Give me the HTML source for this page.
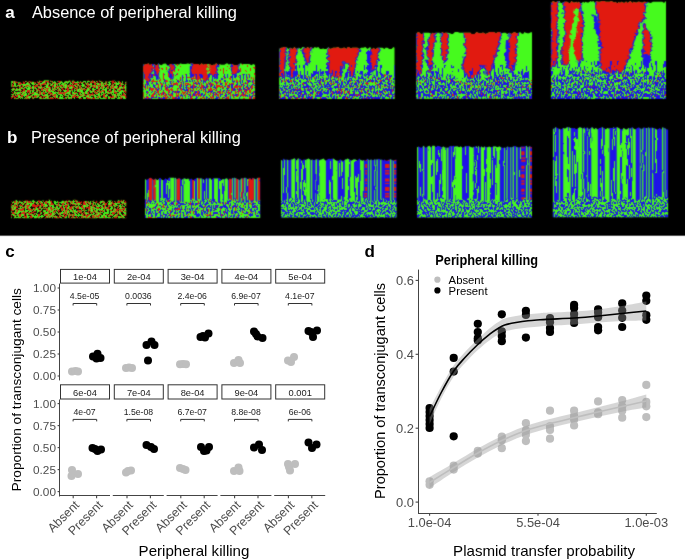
<!DOCTYPE html>
<html><head><meta charset="utf-8"><style>
html,body{margin:0;padding:0;background:#fff;width:685px;height:560px;overflow:hidden}
svg{display:block}
text{opacity:0.999}
text{font-family:"Liberation Sans",sans-serif}
</style></head><body>
<svg width="685" height="560" viewBox="0 0 685 560">
<defs>
<filter id="fRGK" x="0" y="0" width="1" height="1" color-interpolation-filters="sRGB">
<feTurbulence type="fractalNoise" baseFrequency="0.55" numOctaves="2" seed="4" result="n1"/>
<feColorMatrix in="n1" type="matrix" values="1 0 0 0 0 1 0 0 0 0 1 0 0 0 0 0 0 0 0 1" result="g1"/>
<feComponentTransfer in="g1" result="base"><feFuncR type="discrete" tableValues="0.882 0.882 0.882 0.882 0.882 0.882 0.882 0.882 0.882 0.882 0.882 0.882 0.882 0.882 0.882 0.882 0.882 0.882 0.882 0.882 0.882 0.882 0.882 0.882 0.882 0.882 0.882 0.882 0.882 0.882 0.882 0.275 0.275 0.275 0.275 0.275 0.275 0.275 0.275 0.275 0.275 0.275 0.275 0.275 0.275 0.275 0.275 0.275 0.275 0.275 0.275 0.275 0.275 0.275 0.275 0.275 0.275 0.275 0.275 0.275 0.275 0.275 0.275 0.275"/><feFuncG type="discrete" tableValues="0.102 0.102 0.102 0.102 0.102 0.102 0.102 0.102 0.102 0.102 0.102 0.102 0.102 0.102 0.102 0.102 0.102 0.102 0.102 0.102 0.102 0.102 0.102 0.102 0.102 0.102 0.102 0.102 0.102 0.102 0.102 0.98 0.98 0.98 0.98 0.98 0.98 0.98 0.98 0.98 0.98 0.98 0.98 0.98 0.98 0.98 0.98 0.98 0.98 0.98 0.98 0.98 0.98 0.98 0.98 0.98 0.98 0.98 0.98 0.98 0.98 0.98 0.98 0.98"/><feFuncB type="discrete" tableValues="0.063 0.063 0.063 0.063 0.063 0.063 0.063 0.063 0.063 0.063 0.063 0.063 0.063 0.063 0.063 0.063 0.063 0.063 0.063 0.063 0.063 0.063 0.063 0.063 0.063 0.063 0.063 0.063 0.063 0.063 0.063 0.118 0.118 0.118 0.118 0.118 0.118 0.118 0.118 0.118 0.118 0.118 0.118 0.118 0.118 0.118 0.118 0.118 0.118 0.118 0.118 0.118 0.118 0.118 0.118 0.118 0.118 0.118 0.118 0.118 0.118 0.118 0.118 0.118"/></feComponentTransfer>
<feTurbulence type="fractalNoise" baseFrequency="0.55" numOctaves="2" seed="21" result="n2"/>
<feColorMatrix in="n2" type="matrix" values="0 0 0 0 0.000 0 0 0 0 0.000 0 0 0 0 0.000 1 0 0 0 0" result="o1"/>
<feComponentTransfer in="o1" result="ov"><feFuncA type="discrete" tableValues="1 1 1 1 1 1 1 1 1 1 1 1 1 1 1 1 1 1 1 1 1 1 1 1 1 1 0 0 0 0 0 0 0 0 0 0 0 0 0 0 0 0 0 0 0 0 0 0 0 0 0 0 0 0 0 0 0 0 0 0 0 0 0 0"/></feComponentTransfer>
<feMerge><feMergeNode in="base"/><feMergeNode in="ov"/></feMerge>
</filter>
<filter id="fRGK2" x="0" y="0" width="1" height="1" color-interpolation-filters="sRGB">
<feTurbulence type="fractalNoise" baseFrequency="0.55" numOctaves="2" seed="9" result="n1"/>
<feColorMatrix in="n1" type="matrix" values="1 0 0 0 0 1 0 0 0 0 1 0 0 0 0 0 0 0 0 1" result="g1"/>
<feComponentTransfer in="g1" result="base"><feFuncR type="discrete" tableValues="0.882 0.882 0.882 0.882 0.882 0.882 0.882 0.882 0.882 0.882 0.882 0.882 0.882 0.882 0.882 0.882 0.882 0.882 0.882 0.882 0.882 0.882 0.882 0.882 0.882 0.882 0.882 0.882 0.882 0.882 0.882 0.275 0.275 0.275 0.275 0.275 0.275 0.275 0.275 0.275 0.275 0.275 0.275 0.275 0.275 0.275 0.275 0.275 0.275 0.275 0.275 0.275 0.275 0.275 0.275 0.275 0.275 0.275 0.275 0.275 0.275 0.275 0.275 0.275"/><feFuncG type="discrete" tableValues="0.102 0.102 0.102 0.102 0.102 0.102 0.102 0.102 0.102 0.102 0.102 0.102 0.102 0.102 0.102 0.102 0.102 0.102 0.102 0.102 0.102 0.102 0.102 0.102 0.102 0.102 0.102 0.102 0.102 0.102 0.102 0.98 0.98 0.98 0.98 0.98 0.98 0.98 0.98 0.98 0.98 0.98 0.98 0.98 0.98 0.98 0.98 0.98 0.98 0.98 0.98 0.98 0.98 0.98 0.98 0.98 0.98 0.98 0.98 0.98 0.98 0.98 0.98 0.98"/><feFuncB type="discrete" tableValues="0.063 0.063 0.063 0.063 0.063 0.063 0.063 0.063 0.063 0.063 0.063 0.063 0.063 0.063 0.063 0.063 0.063 0.063 0.063 0.063 0.063 0.063 0.063 0.063 0.063 0.063 0.063 0.063 0.063 0.063 0.063 0.118 0.118 0.118 0.118 0.118 0.118 0.118 0.118 0.118 0.118 0.118 0.118 0.118 0.118 0.118 0.118 0.118 0.118 0.118 0.118 0.118 0.118 0.118 0.118 0.118 0.118 0.118 0.118 0.118 0.118 0.118 0.118 0.118"/></feComponentTransfer>
<feTurbulence type="fractalNoise" baseFrequency="0.55" numOctaves="2" seed="22" result="n2"/>
<feColorMatrix in="n2" type="matrix" values="0 0 0 0 0.000 0 0 0 0 0.000 0 0 0 0 0.000 1 0 0 0 0" result="o1"/>
<feComponentTransfer in="o1" result="ov"><feFuncA type="discrete" tableValues="1 1 1 1 1 1 1 1 1 1 1 1 1 1 1 1 1 1 1 1 1 1 1 1 1 1 0 0 0 0 0 0 0 0 0 0 0 0 0 0 0 0 0 0 0 0 0 0 0 0 0 0 0 0 0 0 0 0 0 0 0 0 0 0"/></feComponentTransfer>
<feMerge><feMergeNode in="base"/><feMergeNode in="ov"/></feMerge>
</filter>
<filter id="fA2" x="0" y="0" width="1" height="1" color-interpolation-filters="sRGB">
<feTurbulence type="fractalNoise" baseFrequency="0.6 0.35" numOctaves="2" seed="2" result="n1"/>
<feColorMatrix in="n1" type="matrix" values="1 0 0 0 0 1 0 0 0 0 1 0 0 0 0 0 0 0 0 1" result="g1"/>
<feComponentTransfer in="g1" result="base"><feFuncR type="discrete" tableValues="0.275 0.275 0.275 0.275 0.275 0.275 0.275 0.275 0.275 0.275 0.275 0.275 0.275 0.275 0.275 0.275 0.275 0.275 0.275 0.275 0.275 0.275 0.275 0.275 0.275 0.275 0.275 0.275 0.275 0.275 0.275 0.275 0.275 0.275 0.275 0.118 0.118 0.118 0.118 0.118 0.118 0.118 0.118 0.118 0.118 0.118 0.118 0.118 0.118 0.118 0.118 0.118 0.118 0.118 0.118 0.118 0.118 0.118 0.118 0.118 0.118 0.118 0.118 0.118"/><feFuncG type="discrete" tableValues="0.98 0.98 0.98 0.98 0.98 0.98 0.98 0.98 0.98 0.98 0.98 0.98 0.98 0.98 0.98 0.98 0.98 0.98 0.98 0.98 0.98 0.98 0.98 0.98 0.98 0.98 0.98 0.98 0.98 0.98 0.98 0.98 0.98 0.98 0.98 0.078 0.078 0.078 0.078 0.078 0.078 0.078 0.078 0.078 0.078 0.078 0.078 0.078 0.078 0.078 0.078 0.078 0.078 0.078 0.078 0.078 0.078 0.078 0.078 0.078 0.078 0.078 0.078 0.078"/><feFuncB type="discrete" tableValues="0.118 0.118 0.118 0.118 0.118 0.118 0.118 0.118 0.118 0.118 0.118 0.118 0.118 0.118 0.118 0.118 0.118 0.118 0.118 0.118 0.118 0.118 0.118 0.118 0.118 0.118 0.118 0.118 0.118 0.118 0.118 0.118 0.118 0.118 0.118 0.902 0.902 0.902 0.902 0.902 0.902 0.902 0.902 0.902 0.902 0.902 0.902 0.902 0.902 0.902 0.902 0.902 0.902 0.902 0.902 0.902 0.902 0.902 0.902 0.902 0.902 0.902 0.902 0.902"/></feComponentTransfer>
<feTurbulence type="fractalNoise" baseFrequency="0.6 0.35" numOctaves="2" seed="23" result="n2"/>
<feColorMatrix in="n2" type="matrix" values="0 0 0 0 0.882 0 0 0 0 0.102 0 0 0 0 0.063 1 0 0 0 0" result="o1"/>
<feComponentTransfer in="o1" result="ov"><feFuncA type="discrete" tableValues="1 1 1 1 1 1 1 1 1 1 1 1 1 1 1 1 1 1 1 1 1 1 1 1 1 1 1 1 0 0 0 0 0 0 0 0 0 0 0 0 0 0 0 0 0 0 0 0 0 0 0 0 0 0 0 0 0 0 0 0 0 0 0 0"/></feComponentTransfer>
<feMerge><feMergeNode in="base"/><feMergeNode in="ov"/></feMerge>
</filter>
<filter id="fA3" x="0" y="0" width="1" height="1" color-interpolation-filters="sRGB">
<feTurbulence type="fractalNoise" baseFrequency="0.65 0.35" numOctaves="2" seed="5" result="n1"/>
<feColorMatrix in="n1" type="matrix" values="1 0 0 0 0 1 0 0 0 0 1 0 0 0 0 0 0 0 0 1" result="g1"/>
<feComponentTransfer in="g1" result="base"><feFuncR type="discrete" tableValues="0.275 0.275 0.275 0.275 0.275 0.275 0.275 0.275 0.275 0.275 0.275 0.275 0.275 0.275 0.275 0.275 0.275 0.275 0.275 0.275 0.275 0.275 0.275 0.275 0.275 0.275 0.275 0.275 0.275 0.275 0.275 0.275 0.275 0.118 0.118 0.118 0.118 0.118 0.118 0.118 0.118 0.118 0.118 0.118 0.118 0.118 0.118 0.118 0.118 0.118 0.118 0.118 0.118 0.118 0.118 0.118 0.118 0.118 0.118 0.118 0.118 0.118 0.118 0.118"/><feFuncG type="discrete" tableValues="0.98 0.98 0.98 0.98 0.98 0.98 0.98 0.98 0.98 0.98 0.98 0.98 0.98 0.98 0.98 0.98 0.98 0.98 0.98 0.98 0.98 0.98 0.98 0.98 0.98 0.98 0.98 0.98 0.98 0.98 0.98 0.98 0.98 0.078 0.078 0.078 0.078 0.078 0.078 0.078 0.078 0.078 0.078 0.078 0.078 0.078 0.078 0.078 0.078 0.078 0.078 0.078 0.078 0.078 0.078 0.078 0.078 0.078 0.078 0.078 0.078 0.078 0.078 0.078"/><feFuncB type="discrete" tableValues="0.118 0.118 0.118 0.118 0.118 0.118 0.118 0.118 0.118 0.118 0.118 0.118 0.118 0.118 0.118 0.118 0.118 0.118 0.118 0.118 0.118 0.118 0.118 0.118 0.118 0.118 0.118 0.118 0.118 0.118 0.118 0.118 0.118 0.902 0.902 0.902 0.902 0.902 0.902 0.902 0.902 0.902 0.902 0.902 0.902 0.902 0.902 0.902 0.902 0.902 0.902 0.902 0.902 0.902 0.902 0.902 0.902 0.902 0.902 0.902 0.902 0.902 0.902 0.902"/></feComponentTransfer>
<feTurbulence type="fractalNoise" baseFrequency="0.65 0.35" numOctaves="2" seed="24" result="n2"/>
<feColorMatrix in="n2" type="matrix" values="0 0 0 0 0.882 0 0 0 0 0.102 0 0 0 0 0.063 1 0 0 0 0" result="o1"/>
<feComponentTransfer in="o1" result="ov"><feFuncA type="discrete" tableValues="1 1 1 1 1 1 1 1 1 1 1 1 1 1 1 1 1 1 1 1 1 1 0 0 0 0 0 0 0 0 0 0 0 0 0 0 0 0 0 0 0 0 0 0 0 0 0 0 0 0 0 0 0 0 0 0 0 0 0 0 0 0 0 0"/></feComponentTransfer>
<feMerge><feMergeNode in="base"/><feMergeNode in="ov"/></feMerge>
</filter>
<filter id="fA3b" x="0" y="0" width="1" height="1" color-interpolation-filters="sRGB">
<feTurbulence type="fractalNoise" baseFrequency="0.65 0.35" numOctaves="2" seed="15" result="n1"/>
<feColorMatrix in="n1" type="matrix" values="1 0 0 0 0 1 0 0 0 0 1 0 0 0 0 0 0 0 0 1" result="g1"/>
<feComponentTransfer in="g1" result="base"><feFuncR type="discrete" tableValues="0.275 0.275 0.275 0.275 0.275 0.275 0.275 0.275 0.275 0.275 0.275 0.275 0.275 0.275 0.275 0.275 0.275 0.275 0.275 0.275 0.275 0.275 0.275 0.275 0.275 0.275 0.275 0.275 0.275 0.275 0.275 0.118 0.118 0.118 0.118 0.118 0.118 0.118 0.118 0.118 0.118 0.118 0.118 0.118 0.118 0.118 0.118 0.118 0.118 0.118 0.118 0.118 0.118 0.118 0.118 0.118 0.118 0.118 0.118 0.118 0.118 0.118 0.118 0.118"/><feFuncG type="discrete" tableValues="0.98 0.98 0.98 0.98 0.98 0.98 0.98 0.98 0.98 0.98 0.98 0.98 0.98 0.98 0.98 0.98 0.98 0.98 0.98 0.98 0.98 0.98 0.98 0.98 0.98 0.98 0.98 0.98 0.98 0.98 0.98 0.078 0.078 0.078 0.078 0.078 0.078 0.078 0.078 0.078 0.078 0.078 0.078 0.078 0.078 0.078 0.078 0.078 0.078 0.078 0.078 0.078 0.078 0.078 0.078 0.078 0.078 0.078 0.078 0.078 0.078 0.078 0.078 0.078"/><feFuncB type="discrete" tableValues="0.118 0.118 0.118 0.118 0.118 0.118 0.118 0.118 0.118 0.118 0.118 0.118 0.118 0.118 0.118 0.118 0.118 0.118 0.118 0.118 0.118 0.118 0.118 0.118 0.118 0.118 0.118 0.118 0.118 0.118 0.118 0.902 0.902 0.902 0.902 0.902 0.902 0.902 0.902 0.902 0.902 0.902 0.902 0.902 0.902 0.902 0.902 0.902 0.902 0.902 0.902 0.902 0.902 0.902 0.902 0.902 0.902 0.902 0.902 0.902 0.902 0.902 0.902 0.902"/></feComponentTransfer>
<feTurbulence type="fractalNoise" baseFrequency="0.65 0.35" numOctaves="2" seed="34" result="n2"/>
<feColorMatrix in="n2" type="matrix" values="0 0 0 0 0.882 0 0 0 0 0.102 0 0 0 0 0.063 1 0 0 0 0" result="o1"/>
<feComponentTransfer in="o1" result="ov"><feFuncA type="discrete" tableValues="1 1 1 1 1 1 1 1 1 1 1 1 1 1 1 1 1 1 1 1 1 1 0 0 0 0 0 0 0 0 0 0 0 0 0 0 0 0 0 0 0 0 0 0 0 0 0 0 0 0 0 0 0 0 0 0 0 0 0 0 0 0 0 0"/></feComponentTransfer>
<feMerge><feMergeNode in="base"/><feMergeNode in="ov"/></feMerge>
</filter>
<filter id="fA4" x="0" y="0" width="1" height="1" color-interpolation-filters="sRGB">
<feTurbulence type="fractalNoise" baseFrequency="0.65 0.35" numOctaves="2" seed="6" result="n1"/>
<feColorMatrix in="n1" type="matrix" values="1 0 0 0 0 1 0 0 0 0 1 0 0 0 0 0 0 0 0 1" result="g1"/>
<feComponentTransfer in="g1" result="base"><feFuncR type="discrete" tableValues="0.275 0.275 0.275 0.275 0.275 0.275 0.275 0.275 0.275 0.275 0.275 0.275 0.275 0.275 0.275 0.275 0.275 0.275 0.275 0.275 0.275 0.275 0.275 0.275 0.275 0.275 0.275 0.275 0.275 0.275 0.275 0.275 0.118 0.118 0.118 0.118 0.118 0.118 0.118 0.118 0.118 0.118 0.118 0.118 0.118 0.118 0.118 0.118 0.118 0.118 0.118 0.118 0.118 0.118 0.118 0.118 0.118 0.118 0.118 0.118 0.118 0.118 0.118 0.118"/><feFuncG type="discrete" tableValues="0.98 0.98 0.98 0.98 0.98 0.98 0.98 0.98 0.98 0.98 0.98 0.98 0.98 0.98 0.98 0.98 0.98 0.98 0.98 0.98 0.98 0.98 0.98 0.98 0.98 0.98 0.98 0.98 0.98 0.98 0.98 0.98 0.078 0.078 0.078 0.078 0.078 0.078 0.078 0.078 0.078 0.078 0.078 0.078 0.078 0.078 0.078 0.078 0.078 0.078 0.078 0.078 0.078 0.078 0.078 0.078 0.078 0.078 0.078 0.078 0.078 0.078 0.078 0.078"/><feFuncB type="discrete" tableValues="0.118 0.118 0.118 0.118 0.118 0.118 0.118 0.118 0.118 0.118 0.118 0.118 0.118 0.118 0.118 0.118 0.118 0.118 0.118 0.118 0.118 0.118 0.118 0.118 0.118 0.118 0.118 0.118 0.118 0.118 0.118 0.118 0.902 0.902 0.902 0.902 0.902 0.902 0.902 0.902 0.902 0.902 0.902 0.902 0.902 0.902 0.902 0.902 0.902 0.902 0.902 0.902 0.902 0.902 0.902 0.902 0.902 0.902 0.902 0.902 0.902 0.902 0.902 0.902"/></feComponentTransfer>
<feTurbulence type="fractalNoise" baseFrequency="0.65 0.35" numOctaves="2" seed="25" result="n2"/>
<feColorMatrix in="n2" type="matrix" values="0 0 0 0 0.882 0 0 0 0 0.102 0 0 0 0 0.063 1 0 0 0 0" result="o1"/>
<feComponentTransfer in="o1" result="ov"><feFuncA type="discrete" tableValues="1 1 1 1 1 1 1 1 1 1 1 1 1 1 1 1 1 1 1 1 0 0 0 0 0 0 0 0 0 0 0 0 0 0 0 0 0 0 0 0 0 0 0 0 0 0 0 0 0 0 0 0 0 0 0 0 0 0 0 0 0 0 0 0"/></feComponentTransfer>
<feMerge><feMergeNode in="base"/><feMergeNode in="ov"/></feMerge>
</filter>
<filter id="fA4b" x="0" y="0" width="1" height="1" color-interpolation-filters="sRGB">
<feTurbulence type="fractalNoise" baseFrequency="0.65 0.35" numOctaves="2" seed="16" result="n1"/>
<feColorMatrix in="n1" type="matrix" values="1 0 0 0 0 1 0 0 0 0 1 0 0 0 0 0 0 0 0 1" result="g1"/>
<feComponentTransfer in="g1" result="base"><feFuncR type="discrete" tableValues="0.275 0.275 0.275 0.275 0.275 0.275 0.275 0.275 0.275 0.275 0.275 0.275 0.275 0.275 0.275 0.275 0.275 0.275 0.275 0.275 0.275 0.275 0.275 0.275 0.275 0.275 0.275 0.275 0.275 0.275 0.275 0.118 0.118 0.118 0.118 0.118 0.118 0.118 0.118 0.118 0.118 0.118 0.118 0.118 0.118 0.118 0.118 0.118 0.118 0.118 0.118 0.118 0.118 0.118 0.118 0.118 0.118 0.118 0.118 0.118 0.118 0.118 0.118 0.118"/><feFuncG type="discrete" tableValues="0.98 0.98 0.98 0.98 0.98 0.98 0.98 0.98 0.98 0.98 0.98 0.98 0.98 0.98 0.98 0.98 0.98 0.98 0.98 0.98 0.98 0.98 0.98 0.98 0.98 0.98 0.98 0.98 0.98 0.98 0.98 0.078 0.078 0.078 0.078 0.078 0.078 0.078 0.078 0.078 0.078 0.078 0.078 0.078 0.078 0.078 0.078 0.078 0.078 0.078 0.078 0.078 0.078 0.078 0.078 0.078 0.078 0.078 0.078 0.078 0.078 0.078 0.078 0.078"/><feFuncB type="discrete" tableValues="0.118 0.118 0.118 0.118 0.118 0.118 0.118 0.118 0.118 0.118 0.118 0.118 0.118 0.118 0.118 0.118 0.118 0.118 0.118 0.118 0.118 0.118 0.118 0.118 0.118 0.118 0.118 0.118 0.118 0.118 0.118 0.902 0.902 0.902 0.902 0.902 0.902 0.902 0.902 0.902 0.902 0.902 0.902 0.902 0.902 0.902 0.902 0.902 0.902 0.902 0.902 0.902 0.902 0.902 0.902 0.902 0.902 0.902 0.902 0.902 0.902 0.902 0.902 0.902"/></feComponentTransfer>
<feTurbulence type="fractalNoise" baseFrequency="0.65 0.35" numOctaves="2" seed="35" result="n2"/>
<feColorMatrix in="n2" type="matrix" values="0 0 0 0 0.882 0 0 0 0 0.102 0 0 0 0 0.063 1 0 0 0 0" result="o1"/>
<feComponentTransfer in="o1" result="ov"><feFuncA type="discrete" tableValues="1 1 1 1 1 1 1 1 1 1 1 1 1 1 1 1 1 1 1 1 0 0 0 0 0 0 0 0 0 0 0 0 0 0 0 0 0 0 0 0 0 0 0 0 0 0 0 0 0 0 0 0 0 0 0 0 0 0 0 0 0 0 0 0"/></feComponentTransfer>
<feMerge><feMergeNode in="base"/><feMergeNode in="ov"/></feMerge>
</filter>
<filter id="fA5" x="0" y="0" width="1" height="1" color-interpolation-filters="sRGB">
<feTurbulence type="fractalNoise" baseFrequency="0.65 0.35" numOctaves="2" seed="8" result="n1"/>
<feColorMatrix in="n1" type="matrix" values="1 0 0 0 0 1 0 0 0 0 1 0 0 0 0 0 0 0 0 1" result="g1"/>
<feComponentTransfer in="g1" result="base"><feFuncR type="discrete" tableValues="0.275 0.275 0.275 0.275 0.275 0.275 0.275 0.275 0.275 0.275 0.275 0.275 0.275 0.275 0.275 0.275 0.275 0.275 0.275 0.275 0.275 0.275 0.275 0.275 0.275 0.275 0.275 0.275 0.275 0.275 0.275 0.275 0.118 0.118 0.118 0.118 0.118 0.118 0.118 0.118 0.118 0.118 0.118 0.118 0.118 0.118 0.118 0.118 0.118 0.118 0.118 0.118 0.118 0.118 0.118 0.118 0.118 0.118 0.118 0.118 0.118 0.118 0.118 0.118"/><feFuncG type="discrete" tableValues="0.98 0.98 0.98 0.98 0.98 0.98 0.98 0.98 0.98 0.98 0.98 0.98 0.98 0.98 0.98 0.98 0.98 0.98 0.98 0.98 0.98 0.98 0.98 0.98 0.98 0.98 0.98 0.98 0.98 0.98 0.98 0.98 0.078 0.078 0.078 0.078 0.078 0.078 0.078 0.078 0.078 0.078 0.078 0.078 0.078 0.078 0.078 0.078 0.078 0.078 0.078 0.078 0.078 0.078 0.078 0.078 0.078 0.078 0.078 0.078 0.078 0.078 0.078 0.078"/><feFuncB type="discrete" tableValues="0.118 0.118 0.118 0.118 0.118 0.118 0.118 0.118 0.118 0.118 0.118 0.118 0.118 0.118 0.118 0.118 0.118 0.118 0.118 0.118 0.118 0.118 0.118 0.118 0.118 0.118 0.118 0.118 0.118 0.118 0.118 0.118 0.902 0.902 0.902 0.902 0.902 0.902 0.902 0.902 0.902 0.902 0.902 0.902 0.902 0.902 0.902 0.902 0.902 0.902 0.902 0.902 0.902 0.902 0.902 0.902 0.902 0.902 0.902 0.902 0.902 0.902 0.902 0.902"/></feComponentTransfer>
<feTurbulence type="fractalNoise" baseFrequency="0.65 0.35" numOctaves="2" seed="26" result="n2"/>
<feColorMatrix in="n2" type="matrix" values="0 0 0 0 0.882 0 0 0 0 0.102 0 0 0 0 0.063 1 0 0 0 0" result="o1"/>
<feComponentTransfer in="o1" result="ov"><feFuncA type="discrete" tableValues="1 1 1 1 1 1 1 1 1 1 1 1 1 1 1 1 1 1 0 0 0 0 0 0 0 0 0 0 0 0 0 0 0 0 0 0 0 0 0 0 0 0 0 0 0 0 0 0 0 0 0 0 0 0 0 0 0 0 0 0 0 0 0 0"/></feComponentTransfer>
<feMerge><feMergeNode in="base"/><feMergeNode in="ov"/></feMerge>
</filter>
<filter id="fA5b" x="0" y="0" width="1" height="1" color-interpolation-filters="sRGB">
<feTurbulence type="fractalNoise" baseFrequency="0.65 0.35" numOctaves="2" seed="18" result="n1"/>
<feColorMatrix in="n1" type="matrix" values="1 0 0 0 0 1 0 0 0 0 1 0 0 0 0 0 0 0 0 1" result="g1"/>
<feComponentTransfer in="g1" result="base"><feFuncR type="discrete" tableValues="0.275 0.275 0.275 0.275 0.275 0.275 0.275 0.275 0.275 0.275 0.275 0.275 0.275 0.275 0.275 0.275 0.275 0.275 0.275 0.275 0.275 0.275 0.275 0.275 0.275 0.275 0.275 0.275 0.275 0.275 0.118 0.118 0.118 0.118 0.118 0.118 0.118 0.118 0.118 0.118 0.118 0.118 0.118 0.118 0.118 0.118 0.118 0.118 0.118 0.118 0.118 0.118 0.118 0.118 0.118 0.118 0.118 0.118 0.118 0.118 0.118 0.118 0.118 0.118"/><feFuncG type="discrete" tableValues="0.98 0.98 0.98 0.98 0.98 0.98 0.98 0.98 0.98 0.98 0.98 0.98 0.98 0.98 0.98 0.98 0.98 0.98 0.98 0.98 0.98 0.98 0.98 0.98 0.98 0.98 0.98 0.98 0.98 0.98 0.078 0.078 0.078 0.078 0.078 0.078 0.078 0.078 0.078 0.078 0.078 0.078 0.078 0.078 0.078 0.078 0.078 0.078 0.078 0.078 0.078 0.078 0.078 0.078 0.078 0.078 0.078 0.078 0.078 0.078 0.078 0.078 0.078 0.078"/><feFuncB type="discrete" tableValues="0.118 0.118 0.118 0.118 0.118 0.118 0.118 0.118 0.118 0.118 0.118 0.118 0.118 0.118 0.118 0.118 0.118 0.118 0.118 0.118 0.118 0.118 0.118 0.118 0.118 0.118 0.118 0.118 0.118 0.118 0.902 0.902 0.902 0.902 0.902 0.902 0.902 0.902 0.902 0.902 0.902 0.902 0.902 0.902 0.902 0.902 0.902 0.902 0.902 0.902 0.902 0.902 0.902 0.902 0.902 0.902 0.902 0.902 0.902 0.902 0.902 0.902 0.902 0.902"/></feComponentTransfer>
<feTurbulence type="fractalNoise" baseFrequency="0.65 0.35" numOctaves="2" seed="36" result="n2"/>
<feColorMatrix in="n2" type="matrix" values="0 0 0 0 0.882 0 0 0 0 0.102 0 0 0 0 0.063 1 0 0 0 0" result="o1"/>
<feComponentTransfer in="o1" result="ov"><feFuncA type="discrete" tableValues="1 1 1 1 1 1 1 1 1 1 1 1 1 1 1 1 1 1 0 0 0 0 0 0 0 0 0 0 0 0 0 0 0 0 0 0 0 0 0 0 0 0 0 0 0 0 0 0 0 0 0 0 0 0 0 0 0 0 0 0 0 0 0 0"/></feComponentTransfer>
<feMerge><feMergeNode in="base"/><feMergeNode in="ov"/></feMerge>
</filter>
<filter id="fGB" x="0" y="0" width="1" height="1" color-interpolation-filters="sRGB">
<feTurbulence type="fractalNoise" baseFrequency="0.7 0.4" numOctaves="3" seed="7"/>
<feColorMatrix type="matrix" values="1 0 0 0 0 1 0 0 0 0 1 0 0 0 0 0 0 0 0 1"/>
<feComponentTransfer><feFuncR type="discrete" tableValues="0.275 0.275 0.275 0.275 0.275 0.275 0.275 0.275 0.275 0.275 0.275 0.275 0.275 0.275 0.275 0.275 0.275 0.275 0.275 0.275 0.275 0.275 0.275 0.275 0.275 0.275 0.275 0.275 0.275 0.275 0.275 0.275 0.275 0.118 0.118 0.118 0.118 0.118 0.118 0.118 0.118 0.118 0.118 0.118 0.118 0.118 0.118 0.118 0.118 0.118 0.118 0.118 0.118 0.118 0.118 0.118 0.118 0.118 0.118 0.118 0.118 0.118 0.118 0.118"/><feFuncG type="discrete" tableValues="0.98 0.98 0.98 0.98 0.98 0.98 0.98 0.98 0.98 0.98 0.98 0.98 0.98 0.98 0.98 0.98 0.98 0.98 0.98 0.98 0.98 0.98 0.98 0.98 0.98 0.98 0.98 0.98 0.98 0.98 0.98 0.98 0.98 0.078 0.078 0.078 0.078 0.078 0.078 0.078 0.078 0.078 0.078 0.078 0.078 0.078 0.078 0.078 0.078 0.078 0.078 0.078 0.078 0.078 0.078 0.078 0.078 0.078 0.078 0.078 0.078 0.078 0.078 0.078"/><feFuncB type="discrete" tableValues="0.118 0.118 0.118 0.118 0.118 0.118 0.118 0.118 0.118 0.118 0.118 0.118 0.118 0.118 0.118 0.118 0.118 0.118 0.118 0.118 0.118 0.118 0.118 0.118 0.118 0.118 0.118 0.118 0.118 0.118 0.118 0.118 0.118 0.902 0.902 0.902 0.902 0.902 0.902 0.902 0.902 0.902 0.902 0.902 0.902 0.902 0.902 0.902 0.902 0.902 0.902 0.902 0.902 0.902 0.902 0.902 0.902 0.902 0.902 0.902 0.902 0.902 0.902 0.902"/></feComponentTransfer>
</filter>
<filter id="fM" x="0" y="0" width="1" height="1" color-interpolation-filters="sRGB">
<feTurbulence type="fractalNoise" baseFrequency="1.1 0.05" numOctaves="2" seed="19"/>
<feColorMatrix type="matrix" values="1 0 0 0 0 1 0 0 0 0 1 0 0 0 0 0 0 0 0 1"/>
<feComponentTransfer><feFuncR type="discrete" tableValues="0.275 0.275 0.275 0.275 0.275 0.275 0.275 0.275 0.275 0.275 0.275 0.275 0.275 0.275 0.275 0.275 0.275 0.275 0.275 0.275 0.275 0.275 0.275 0.275 0.275 0.275 0.275 0.275 0.275 0.118 0.118 0.118 0.118 0.118 0.118 0.118 0.118 0.118 0.118 0.118 0.118 0.118 0.118 0.118 0.118 0.118 0.118 0.118 0.118 0.118 0.118 0.118 0.118 0.118 0.118 0.118 0.118 0.118 0.118 0.118 0.118 0.118 0.118 0.118"/><feFuncG type="discrete" tableValues="0.98 0.98 0.98 0.98 0.98 0.98 0.98 0.98 0.98 0.98 0.98 0.98 0.98 0.98 0.98 0.98 0.98 0.98 0.98 0.98 0.98 0.98 0.98 0.98 0.98 0.98 0.98 0.98 0.98 0.078 0.078 0.078 0.078 0.078 0.078 0.078 0.078 0.078 0.078 0.078 0.078 0.078 0.078 0.078 0.078 0.078 0.078 0.078 0.078 0.078 0.078 0.078 0.078 0.078 0.078 0.078 0.078 0.078 0.078 0.078 0.078 0.078 0.078 0.078"/><feFuncB type="discrete" tableValues="0.118 0.118 0.118 0.118 0.118 0.118 0.118 0.118 0.118 0.118 0.118 0.118 0.118 0.118 0.118 0.118 0.118 0.118 0.118 0.118 0.118 0.118 0.118 0.118 0.118 0.118 0.118 0.118 0.118 0.902 0.902 0.902 0.902 0.902 0.902 0.902 0.902 0.902 0.902 0.902 0.902 0.902 0.902 0.902 0.902 0.902 0.902 0.902 0.902 0.902 0.902 0.902 0.902 0.902 0.902 0.902 0.902 0.902 0.902 0.902 0.902 0.902 0.902 0.902"/></feComponentTransfer>
</filter>
<filter id="fGB2" x="0" y="0" width="1" height="1" color-interpolation-filters="sRGB">
<feTurbulence type="fractalNoise" baseFrequency="0.6 0.35" numOctaves="3" seed="12" result="n1"/>
<feColorMatrix in="n1" type="matrix" values="1 0 0 0 0 1 0 0 0 0 1 0 0 0 0 0 0 0 0 1" result="g1"/>
<feComponentTransfer in="g1" result="base"><feFuncR type="discrete" tableValues="0.275 0.275 0.275 0.275 0.275 0.275 0.275 0.275 0.275 0.275 0.275 0.275 0.275 0.275 0.275 0.275 0.275 0.275 0.275 0.275 0.275 0.275 0.275 0.275 0.275 0.275 0.275 0.275 0.275 0.275 0.275 0.275 0.275 0.275 0.118 0.118 0.118 0.118 0.118 0.118 0.118 0.118 0.118 0.118 0.118 0.118 0.118 0.118 0.118 0.118 0.118 0.118 0.118 0.118 0.118 0.118 0.118 0.118 0.118 0.118 0.118 0.118 0.118 0.118"/><feFuncG type="discrete" tableValues="0.98 0.98 0.98 0.98 0.98 0.98 0.98 0.98 0.98 0.98 0.98 0.98 0.98 0.98 0.98 0.98 0.98 0.98 0.98 0.98 0.98 0.98 0.98 0.98 0.98 0.98 0.98 0.98 0.98 0.98 0.98 0.98 0.98 0.98 0.078 0.078 0.078 0.078 0.078 0.078 0.078 0.078 0.078 0.078 0.078 0.078 0.078 0.078 0.078 0.078 0.078 0.078 0.078 0.078 0.078 0.078 0.078 0.078 0.078 0.078 0.078 0.078 0.078 0.078"/><feFuncB type="discrete" tableValues="0.118 0.118 0.118 0.118 0.118 0.118 0.118 0.118 0.118 0.118 0.118 0.118 0.118 0.118 0.118 0.118 0.118 0.118 0.118 0.118 0.118 0.118 0.118 0.118 0.118 0.118 0.118 0.118 0.118 0.118 0.118 0.118 0.118 0.118 0.902 0.902 0.902 0.902 0.902 0.902 0.902 0.902 0.902 0.902 0.902 0.902 0.902 0.902 0.902 0.902 0.902 0.902 0.902 0.902 0.902 0.902 0.902 0.902 0.902 0.902 0.902 0.902 0.902 0.902"/></feComponentTransfer>
<feTurbulence type="fractalNoise" baseFrequency="0.6 0.35" numOctaves="3" seed="27" result="n2"/>
<feColorMatrix in="n2" type="matrix" values="0 0 0 0 0.882 0 0 0 0 0.102 0 0 0 0 0.063 1 0 0 0 0" result="o1"/>
<feComponentTransfer in="o1" result="ov"><feFuncA type="discrete" tableValues="1 1 1 1 1 1 1 1 1 1 1 1 1 1 1 1 1 1 1 1 1 0 0 0 0 0 0 0 0 0 0 0 0 0 0 0 0 0 0 0 0 0 0 0 0 0 0 0 0 0 0 0 0 0 0 0 0 0 0 0 0 0 0 0"/></feComponentTransfer>
<feMerge><feMergeNode in="base"/><feMergeNode in="ov"/></feMerge>
</filter>
<filter id="fBS" x="0" y="0" width="1" height="1" color-interpolation-filters="sRGB">
<feTurbulence type="fractalNoise" baseFrequency="0.5 0.1" numOctaves="2" seed="41" result="n2"/>
<feColorMatrix in="n2" type="matrix" values="0 0 0 0 0.118 0 0 0 0 0.078 0 0 0 0 0.902 1 0 0 0 0" result="o1"/>
<feComponentTransfer in="o1"><feFuncA type="discrete" tableValues="1 1 1 1 1 1 1 1 1 1 1 1 1 1 1 1 1 1 1 1 1 1 1 1 1 1 1 0 0 0 0 0 0 0 0 0 0 0 0 0 0 0 0 0 0 0 0 0 0 0 0 0 0 0 0 0 0 0 0 0 0 0 0 0"/></feComponentTransfer>
</filter>
<filter id="fRS" x="0" y="0" width="1" height="1" color-interpolation-filters="sRGB">
<feTurbulence type="fractalNoise" baseFrequency="0.6 0.3" numOctaves="2" seed="43" result="n2"/>
<feColorMatrix in="n2" type="matrix" values="0 0 0 0 0.882 0 0 0 0 0.102 0 0 0 0 0.063 1 0 0 0 0" result="o1"/>
<feComponentTransfer in="o1"><feFuncA type="discrete" tableValues="1 1 1 1 1 1 1 1 1 1 1 1 1 1 1 1 1 1 1 1 1 0 0 0 0 0 0 0 0 0 0 0 0 0 0 0 0 0 0 0 0 0 0 0 0 0 0 0 0 0 0 0 0 0 0 0 0 0 0 0 0 0 0 0"/></feComponentTransfer>
</filter>
<filter id="fBS2" x="0" y="0" width="1" height="1" color-interpolation-filters="sRGB">
<feTurbulence type="fractalNoise" baseFrequency="0.5 0.1" numOctaves="2" seed="42" result="n2"/>
<feColorMatrix in="n2" type="matrix" values="0 0 0 0 0.118 0 0 0 0 0.078 0 0 0 0 0.902 1 0 0 0 0" result="o1"/>
<feComponentTransfer in="o1"><feFuncA type="discrete" tableValues="1 1 1 1 1 1 1 1 1 1 1 1 1 1 1 1 1 1 1 1 1 1 1 1 0 0 0 0 0 0 0 0 0 0 0 0 0 0 0 0 0 0 0 0 0 0 0 0 0 0 0 0 0 0 0 0 0 0 0 0 0 0 0 0"/></feComponentTransfer>
</filter>
<pattern id="pM" x="0" y="0" width="2" height="7" patternUnits="userSpaceOnUse"><rect width="2" height="7" fill="#1e14e6"/><rect x="0" y="0" width="1" height="5" fill="#46fa1e"/><rect x="1" y="4" width="1" height="2" fill="#46fa1e"/></pattern>
<filter id="conv" x="0" y="0" width="685" height="560" filterUnits="userSpaceOnUse" color-interpolation-filters="sRGB"><feConvolveMatrix order="3" kernelMatrix="1 2 1 2 12 2 1 2 1" divisor="24" edgeMode="duplicate"/></filter>
<filter id="soft" x="-0.02" y="-0.02" width="1.04" height="1.04"><feGaussianBlur stdDeviation="0.45"/></filter>
<filter id="rag" x="-0.1" y="-0.1" width="1.2" height="1.2" color-interpolation-filters="sRGB">
<feTurbulence type="fractalNoise" baseFrequency="0.22 0.3" numOctaves="2" seed="31" result="t"/>
<feDisplacementMap in="SourceGraphic" in2="t" scale="6" xChannelSelector="R" yChannelSelector="G"/>
</filter>
<filter id="wob" x="-0.05" y="-0.05" width="1.1" height="1.1" color-interpolation-filters="sRGB">
<feTurbulence type="fractalNoise" baseFrequency="0.1 0.07" numOctaves="2" seed="33" result="t"/>
<feColorMatrix in="t" type="matrix" values="1 0 0 0 0 0 0 0 0 0.5 0 0 0 0 0 0 0 0 0 1" result="t2"/>
<feDisplacementMap in="SourceGraphic" in2="t2" scale="2.2" xChannelSelector="R" yChannelSelector="G"/>
</filter>
</defs>
<rect x="0" y="0" width="685" height="235.4" fill="#000"/>
<g filter="url(#conv)">
<rect x="0" y="0" width="685" height="235.4" fill="#000"/>
<clipPath id="cA0"><polygon points="11.2,99.0 11.2,81.0 13.2,81.0 15.0,81.0 16.7,81.7 18.8,82.3 20.7,82.3 21.9,82.3 22.8,81.7 24.5,81.0 25.7,81.0 26.5,81.0 27.5,81.0 28.5,81.7 29.8,81.0 31.1,81.7 33.2,81.7 35.0,82.3 37.1,81.7 38.7,80.2 39.9,81.0 41.7,81.0 43.0,81.7 44.2,80.2 46.3,80.2 47.9,80.2 49.4,80.2 50.2,80.2 51.3,81.0 52.7,81.0 54.3,81.0 55.5,81.7 56.5,81.7 57.8,81.0 59.8,81.0 61.6,81.0 62.5,82.3 63.9,81.7 66.0,81.0 67.6,80.2 68.4,81.0 70.2,80.2 71.3,82.3 72.7,80.2 74.6,81.0 75.5,82.3 77.3,81.0 79.5,82.3 80.4,81.0 82.1,81.7 83.3,81.0 85.2,81.0 87.0,81.0 88.5,80.2 90.6,81.7 92.1,80.2 93.7,81.0 95.0,81.0 96.2,81.0 98.3,81.0 100.4,80.2 102.3,81.7 103.9,81.7 105.2,81.7 106.0,81.0 107.5,81.7 108.8,81.7 110.2,81.0 111.9,81.0 113.1,80.2 113.9,81.0 114.9,80.2 116.1,82.3 117.4,81.7 119.5,81.0 121.7,82.3 122.5,81.0 124.3,81.0 125.2,82.3 126.3,81.0 126.3,99.0" /></clipPath>
<g clip-path="url(#cA0)"><rect x="11.2" y="79.2" width="115.1" height="19.8" filter="url(#fRGK)"/></g>
<clipPath id="cB0"><polygon points="11.2,218.2 11.2,200.9 12.3,201.9 13.4,201.3 14.5,201.3 16.6,199.8 18.5,201.9 19.8,200.6 21.8,201.9 22.7,200.6 24.1,201.3 25.4,200.6 26.9,200.6 27.8,200.6 29.0,199.8 30.0,200.6 31.4,201.9 33.0,199.8 34.0,200.6 35.7,201.9 37.8,200.6 39.5,200.6 41.1,201.3 42.6,200.6 43.5,200.6 44.9,200.6 45.8,201.3 47.9,199.8 50.0,199.8 51.2,200.6 53.1,201.9 54.9,200.6 57.0,200.6 58.8,201.9 60.8,201.9 62.8,200.6 65.0,201.3 66.5,200.6 67.5,199.8 68.9,200.6 70.2,200.6 71.5,199.8 72.7,200.6 73.5,199.8 75.3,199.8 77.3,200.6 78.4,201.9 80.3,201.3 81.2,201.3 83.4,201.9 84.3,199.8 85.2,200.6 86.6,201.3 88.8,201.3 90.4,200.6 91.6,201.9 92.4,201.3 93.6,200.6 95.1,201.3 96.4,200.6 97.3,201.9 98.1,201.3 100.0,201.9 101.0,199.8 101.9,200.6 102.9,200.6 104.3,201.3 105.6,201.9 107.3,201.9 108.8,200.6 110.3,200.6 111.2,200.6 113.0,201.3 114.2,201.3 115.4,201.3 117.1,201.9 118.4,199.8 120.3,201.3 121.6,199.8 122.9,199.8 124.9,200.6 126.3,201.9 126.3,218.2" /></clipPath>
<g clip-path="url(#cB0)"><rect x="11.2" y="198.8" width="115.1" height="19.4" filter="url(#fRGK2)"/></g>
<clipPath id="ca1"><polygon points="143.2,99.0 143.2,64.2 144.1,64.7 146.3,64.0 147.3,64.0 148.6,63.2 149.7,65.3 151.4,64.0 153.1,64.0 154.0,64.0 156.1,65.3 157.3,65.3 158.2,63.2 160.0,64.7 161.4,65.3 163.1,64.0 165.3,63.2 167.4,65.3 168.7,65.3 170.9,64.0 171.9,64.0 172.7,64.0 174.9,64.0 176.0,64.7 177.6,64.0 179.1,64.7 180.2,63.2 182.2,64.0 183.9,64.0 185.9,64.0 188.0,63.2 189.6,64.0 191.7,63.2 193.8,64.0 196.0,64.0 197.2,64.0 198.4,64.0 199.7,65.3 201.6,63.2 203.4,64.7 205.1,64.0 206.7,64.0 208.9,64.0 209.9,64.0 211.2,65.3 212.0,65.3 213.5,64.7 214.9,64.7 216.0,63.2 217.4,64.0 218.3,65.3 219.6,64.0 221.2,64.7 223.0,64.7 224.4,64.7 226.6,63.2 227.5,63.2 228.9,64.7 229.9,64.0 230.8,64.0 232.9,64.0 233.7,65.3 235.1,65.3 236.6,65.3 238.4,64.7 240.4,63.2 242.4,64.0 244.2,64.0 245.6,64.0 247.3,64.0 249.4,64.0 251.2,65.3 252.3,64.7 253.1,64.0 254.6,64.7 255.2,64.7 255.2,99.0" /></clipPath>
<g clip-path="url(#ca1)">
<rect x="143.2" y="63.2" width="112.0" height="35.8" fill="#46fa1e"/>
<g filter="url(#rag)">
<polygon points="143.2,58.2 153.0,58.2 152.5,68.0 151.5,74.0 150.5,80.0 147.0,83.0 145.0,79.0 143.2,81.0" fill="#e11a10" stroke="#1e14e6" stroke-width="1.3" stroke-linejoin="round"/>
<polygon points="154.9,58.2 159.5,58.2 159.0,70.0 158.0,78.0 156.0,80.0 154.5,72.0" fill="#e11a10" stroke="#1e14e6" stroke-width="1.3" stroke-linejoin="round"/>
<polygon points="168.0,58.2 173.5,58.2 173.5,70.0 173.0,78.0 171.0,80.0 169.5,72.0" fill="#e11a10" stroke="#1e14e6" stroke-width="1.3" stroke-linejoin="round"/>
<polygon points="190.3,58.2 218.0,58.2 217.5,70.0 216.0,78.0 213.0,76.0 209.0,74.0 206.0,82.0 203.0,84.0 197.0,84.0 193.5,79.0 190.5,72.0" fill="#e11a10" stroke="#1e14e6" stroke-width="1.3" stroke-linejoin="round"/>
<polygon points="231.1,58.2 240.0,58.2 238.5,70.0 236.0,77.0 233.0,74.0 231.5,70.0" fill="#e11a10" stroke="#1e14e6" stroke-width="1.3" stroke-linejoin="round"/>
<polygon points="207.5,63.0 209.5,63.0 209.3,70.0 208.5,76.0 207.2,70.0" fill="#46fa1e"/>
</g>
<rect x="143.2" y="63.2" width="112.0" height="16.8" filter="url(#fRS)"/>
<rect x="143.2" y="74.0" width="112.0" height="8.0" filter="url(#fBS)"/>
<clipPath id="cb1"><polygon points="143.2,100.0 143.2,81.1 144.8,78.2 146.7,81.9 149.5,83.1 151.2,79.4 152.8,77.7 155.3,76.2 157.2,81.2 159.8,77.8 162.5,82.5 164.0,82.4 166.9,78.7 168.7,83.7 170.9,76.7 172.5,82.8 175.3,82.5 178.2,80.3 181.7,79.0 184.3,82.6 187.0,82.9 189.7,81.6 191.2,77.8 193.3,76.6 195.3,76.8 197.3,81.1 199.6,79.0 201.5,78.1 204.9,81.2 207.6,77.4 210.5,77.3 212.8,83.9 215.6,80.5 218.5,82.7 221.5,77.8 223.1,78.5 225.1,77.7 228.5,83.0 230.6,81.2 232.9,83.3 235.3,78.1 237.3,80.5 239.3,80.7 242.6,79.2 244.6,84.0 247.1,76.7 248.7,76.9 251.5,82.3 253.8,76.5 255.2,84.0 255.2,100.0" /></clipPath>
<g clip-path="url(#cb1)"><rect x="143.2" y="74.0" width="112.0" height="25.0" filter="url(#fA2)"/></g>
</g>
<clipPath id="ca2"><polygon points="279.2,98.9 279.2,48.8 280.0,48.4 281.3,47.8 282.5,47.8 283.8,47.0 285.6,47.0 287.1,47.8 288.3,49.1 290.4,47.8 292.5,49.1 294.6,47.0 296.1,49.1 296.9,48.4 299.0,47.8 300.9,49.1 302.4,47.0 303.2,47.0 304.8,47.8 306.3,49.1 307.1,47.0 308.8,47.8 309.6,49.1 310.5,47.0 312.2,47.8 313.4,48.4 314.7,47.0 316.3,47.8 318.4,47.0 320.0,49.1 321.3,49.1 323.4,48.4 324.3,49.1 326.4,49.1 328.6,47.0 329.9,49.1 331.7,48.4 333.1,47.8 334.1,47.8 336.0,47.8 338.1,47.0 340.1,48.4 341.9,48.4 343.5,47.8 344.9,47.8 346.4,49.1 347.8,47.0 348.9,47.0 350.8,48.4 352.3,47.8 354.4,47.8 356.5,47.8 357.4,47.8 359.4,49.1 361.1,47.8 362.1,47.8 363.3,47.8 365.4,47.0 367.5,49.1 369.1,47.8 370.2,47.0 371.3,49.1 372.4,49.1 373.5,47.8 374.9,49.1 375.8,49.1 377.5,47.8 378.6,47.8 380.3,47.8 382.4,47.8 384.5,49.1 385.5,47.8 387.3,47.8 389.4,49.1 391.5,49.1 393.6,47.0 394.6,47.8 394.7,48.4 394.7,98.9" /></clipPath>
<g clip-path="url(#ca2)">
<rect x="279.2" y="47.0" width="115.5" height="51.9" fill="#46fa1e"/>
<g filter="url(#rag)">
<polygon points="279.2,42.0 286.8,42.0 285.3,60.0 284.5,70.0 285.0,78.0 282.0,78.0 279.2,75.0" fill="#e11a10" stroke="#1e14e6" stroke-width="1.3" stroke-linejoin="round"/>
<polygon points="290.0,42.0 297.7,42.0 296.1,60.0 295.5,70.0 294.0,78.0 291.5,79.0 290.0,70.0 289.0,60.0" fill="#e11a10" stroke="#1e14e6" stroke-width="1.3" stroke-linejoin="round"/>
<polygon points="301.3,42.0 311.7,42.0 310.1,55.0 309.0,62.0 307.0,68.0 306.0,62.0 303.9,55.0" fill="#e11a10" stroke="#1e14e6" stroke-width="1.3" stroke-linejoin="round"/>
<polygon points="328.2,42.0 360.9,42.0 357.8,55.0 356.2,62.0 354.7,70.0 353.0,78.0 349.0,76.0 348.5,63.0 343.3,63.0 342.0,78.0 336.0,78.0 330.0,75.0 327.7,70.0 327.7,60.0" fill="#e11a10" stroke="#1e14e6" stroke-width="1.3" stroke-linejoin="round"/>
<polygon points="370.2,42.0 379.5,42.0 378.5,55.0 376.4,65.0 373.0,72.0 369.2,65.0 370.7,55.0" fill="#e11a10" stroke="#1e14e6" stroke-width="1.3" stroke-linejoin="round"/>
<polygon points="367.0,50.0 371.2,50.0 371.0,75.0 367.0,75.0" fill="#1e14e6"/>
</g>
<rect x="279.2" y="65.0" width="115.5" height="14.0" filter="url(#fBS2)"/>
<rect x="279.2" y="71.0" width="115.5" height="8.0" filter="url(#fBS)"/>
<clipPath id="cb2"><polygon points="279.2,99.9 279.2,77.2 282.6,79.9 284.2,78.8 287.0,77.3 289.1,78.1 290.8,76.5 293.2,80.6 296.4,75.1 298.9,74.4 302.3,80.0 304.4,78.1 307.1,74.2 310.1,77.3 313.2,77.2 314.7,75.6 316.2,80.4 319.5,79.7 321.6,73.5 324.8,80.6 326.5,76.9 328.1,79.1 331.2,74.0 333.6,77.4 335.7,80.0 338.0,74.7 340.6,78.8 342.5,75.5 346.0,78.2 348.4,77.1 350.1,74.8 352.3,77.7 354.2,74.8 355.9,78.0 357.8,80.2 361.0,73.6 363.0,78.4 365.0,74.1 368.3,77.6 370.8,79.3 373.9,74.5 375.6,76.4 377.9,76.7 380.9,78.4 384.4,73.8 386.7,75.7 389.9,75.0 391.8,76.6 394.1,75.2 394.7,80.4 394.7,99.9" /></clipPath>
<g clip-path="url(#cb2)"><rect x="279.2" y="71.0" width="115.5" height="27.9" filter="url(#fA3)"/></g>
<clipPath id="cbl2"><polygon points="279.2,99.9 279.2,87.6 282.4,88.3 284.0,90.9 287.2,90.8 290.5,90.0 292.4,87.9 294.3,87.4 295.9,87.2 299.4,86.5 302.5,87.7 304.8,90.7 308.3,88.3 311.2,85.9 313.3,90.8 316.0,88.2 319.0,85.3 321.7,88.0 324.9,85.9 328.3,85.4 330.2,88.5 333.0,86.4 334.7,90.3 336.7,88.5 339.5,87.5 342.1,88.1 345.5,86.2 348.4,86.4 350.7,89.0 352.8,86.8 355.8,85.4 358.3,90.9 361.7,85.4 363.7,86.5 367.0,90.2 370.3,87.2 372.1,90.0 375.0,88.6 378.5,88.9 380.0,89.9 382.1,88.9 385.5,85.8 387.2,85.6 389.8,86.6 392.5,89.3 394.4,88.8 394.7,87.9 394.7,99.9" /></clipPath>
<g clip-path="url(#cbl2)"><rect x="279.2" y="84.0" width="115.5" height="15.0" filter="url(#fA3b)"/></g>
</g>
<clipPath id="ca3"><polygon points="416.2,98.8 416.2,33.7 418.1,31.9 419.8,32.7 420.8,34.0 422.4,34.0 423.3,32.7 424.4,32.7 426.6,32.7 428.8,32.7 430.5,33.3 431.3,34.0 432.8,32.7 433.9,33.3 435.8,32.7 437.0,32.7 438.3,32.7 439.4,32.7 440.8,33.3 442.7,31.9 443.7,33.3 445.3,32.7 446.3,32.7 447.9,32.7 449.9,33.3 451.5,34.0 452.9,34.0 454.9,31.9 456.9,31.9 457.8,31.9 459.6,32.7 461.0,32.7 462.5,32.7 464.6,32.7 466.8,32.7 468.6,32.7 470.5,32.7 471.4,34.0 472.9,34.0 474.7,34.0 476.6,31.9 478.0,32.7 479.5,33.3 481.1,33.3 482.3,32.7 483.6,32.7 485.7,34.0 487.0,33.3 488.1,32.7 490.2,31.9 492.2,31.9 493.8,31.9 496.0,33.3 498.1,31.9 499.8,31.9 501.8,33.3 503.8,32.7 505.4,32.7 507.3,34.0 509.1,32.7 510.1,33.3 511.3,34.0 513.0,32.7 514.7,31.9 515.7,32.7 516.7,33.3 517.9,33.3 520.1,31.9 521.1,33.3 523.1,34.0 524.5,31.9 525.6,32.7 527.6,33.3 529.0,33.3 531.2,31.9 532.1,32.7 532.1,98.8" /></clipPath>
<g clip-path="url(#ca3)">
<rect x="416.2" y="31.9" width="115.9" height="66.9" fill="#46fa1e"/>
<g filter="url(#rag)">
<polygon points="416.2,26.9 424.3,26.9 423.5,40.0 423.0,50.0 422.0,65.0 421.0,75.0 419.0,80.0 416.2,80.0" fill="#e11a10" stroke="#1e14e6" stroke-width="1.3" stroke-linejoin="round"/>
<polygon points="431.4,26.9 435.9,26.9 435.0,40.0 433.3,50.0 432.5,65.0 431.0,72.0 428.0,72.0 426.9,50.0 429.0,40.0" fill="#e11a10" stroke="#1e14e6" stroke-width="1.3" stroke-linejoin="round"/>
<polygon points="441.0,26.9 448.1,26.9 447.4,50.0 446.0,60.0 443.0,63.0 441.7,50.0" fill="#e11a10" stroke="#1e14e6" stroke-width="1.3" stroke-linejoin="round"/>
<polygon points="463.5,26.9 502.2,26.9 499.0,45.0 495.8,55.0 492.6,65.0 491.0,75.0 487.0,78.0 485.0,66.0 481.0,66.0 479.0,78.0 468.0,78.0 463.0,70.0 462.9,65.0 465.5,50.0" fill="#e11a10" stroke="#1e14e6" stroke-width="1.3" stroke-linejoin="round"/>
<polygon points="509.3,26.9 517.7,26.9 517.0,45.0 515.7,55.0 514.8,65.0 513.0,72.0 510.0,72.0 508.7,65.0 508.0,55.0 508.7,45.0" fill="#e11a10" stroke="#1e14e6" stroke-width="1.3" stroke-linejoin="round"/>
<polygon points="506.0,40.0 508.7,40.0 508.0,55.0 508.7,65.0 506.0,68.0 505.0,55.0" fill="#1e14e6"/>
</g>
<rect x="416.2" y="65.0" width="115.9" height="14.0" filter="url(#fBS2)"/>
<rect x="416.2" y="71.0" width="115.9" height="8.0" filter="url(#fBS)"/>
<clipPath id="cb3"><polygon points="416.2,99.8 416.2,80.2 419.4,73.7 421.7,75.2 423.2,79.2 426.0,75.1 429.0,77.4 431.4,73.1 433.0,80.1 436.3,77.4 439.5,77.7 441.3,74.0 443.4,80.2 446.5,79.9 449.8,74.7 451.8,73.8 454.8,80.1 457.2,78.0 459.0,80.4 462.2,80.8 465.3,80.1 466.9,78.9 469.0,80.4 472.1,79.9 475.3,75.1 478.3,73.9 481.6,79.9 483.5,79.5 485.9,75.4 489.0,74.8 490.6,74.5 492.7,79.9 496.2,75.2 499.0,76.2 502.4,77.3 505.8,73.9 509.2,74.4 512.7,75.1 514.4,76.5 517.3,75.5 520.0,77.1 522.3,77.6 524.3,78.7 525.8,80.4 528.4,78.8 531.4,78.4 532.1,73.6 532.1,99.8" /></clipPath>
<g clip-path="url(#cb3)"><rect x="416.2" y="71.0" width="115.9" height="27.8" filter="url(#fA4)"/></g>
<clipPath id="cbl3"><polygon points="416.2,99.8 416.2,88.9 418.4,86.8 421.6,89.2 423.7,86.8 426.0,87.3 428.1,85.7 430.4,90.5 433.3,90.3 436.0,86.7 438.6,84.9 440.7,87.5 443.3,88.8 445.8,87.6 447.7,87.7 451.0,89.7 452.8,85.4 455.4,88.7 457.5,89.8 460.5,88.9 462.5,86.1 464.0,86.4 466.5,90.0 468.1,87.4 470.9,86.1 473.8,87.9 475.8,88.8 477.3,89.4 480.3,85.5 482.7,86.0 486.1,88.0 487.7,86.4 490.9,87.6 494.0,88.9 497.5,88.5 500.9,90.2 503.6,89.2 506.1,89.9 508.7,90.3 511.7,87.7 513.7,86.4 516.5,89.5 519.0,88.7 521.1,85.4 523.1,86.5 525.3,88.1 527.0,86.3 529.9,89.1 531.6,87.3 532.1,87.4 532.1,99.8" /></clipPath>
<g clip-path="url(#cbl3)"><rect x="416.2" y="83.9" width="115.9" height="14.9" filter="url(#fA4b)"/></g>
</g>
<clipPath id="ca4"><polygon points="550.8,99.1 550.8,2.0 551.9,3.1 552.8,1.0 554.5,1.8 555.9,2.5 557.6,1.0 559.7,1.0 560.6,3.1 561.6,3.1 562.9,2.5 564.1,1.8 565.9,1.8 567.2,1.8 569.0,3.1 570.3,3.1 571.3,1.0 573.4,2.5 574.7,2.5 576.3,1.8 577.1,3.1 578.5,1.8 580.4,3.1 581.7,3.1 583.3,1.8 584.3,3.1 585.2,1.8 587.2,2.5 588.6,2.5 590.7,1.0 591.7,1.8 593.5,1.0 595.0,3.1 596.1,1.0 598.2,1.8 600.0,1.8 602.1,1.0 602.9,1.0 604.5,1.0 605.7,1.8 607.3,1.8 608.9,1.8 609.7,1.8 611.3,1.0 612.8,1.8 614.8,2.5 615.6,1.8 616.8,3.1 617.8,3.1 618.8,1.8 619.8,3.1 621.6,1.8 623.0,2.5 624.2,3.1 625.7,1.8 626.6,1.8 627.5,3.1 629.3,1.8 630.4,1.0 632.4,3.1 633.7,1.8 635.6,2.5 637.0,2.5 637.9,1.8 639.4,1.8 641.5,2.5 642.9,2.5 643.8,1.8 645.2,1.8 646.2,2.5 647.1,1.8 648.8,2.5 650.5,3.1 651.8,2.5 652.8,1.8 653.9,1.8 655.3,1.8 657.4,1.8 659.6,1.8 660.7,1.8 662.3,1.8 664.1,3.1 665.8,1.0 666.1,1.8 666.1,99.1" /></clipPath>
<g clip-path="url(#ca4)">
<rect x="550.8" y="1.0" width="115.3" height="98.1" fill="#46fa1e"/>
<g filter="url(#rag)">
<polygon points="550.8,-4.0 558.5,-4.0 557.5,10.0 557.0,20.0 558.0,35.0 557.5,50.0 557.8,55.0 556.0,62.0 554.0,68.0 550.8,70.0" fill="#e11a10" stroke="#1e14e6" stroke-width="1.3" stroke-linejoin="round"/>
<polygon points="563.8,-4.0 580.0,-4.0 581.0,10.0 583.5,20.0 582.4,35.0 582.4,50.0 582.0,60.0 579.0,63.0 576.0,60.0 568.6,63.0 565.0,66.0 562.0,62.0 561.8,50.0 565.0,35.0 564.7,20.0 563.8,10.0" fill="#e11a10" stroke="#1e14e6" stroke-width="1.3" stroke-linejoin="round"/>
<polygon points="595.5,-4.0 647.5,-4.0 645.0,10.0 644.0,20.0 640.0,22.0 636.0,35.0 633.0,45.0 629.5,55.0 625.6,65.0 624.0,72.0 619.0,74.0 614.0,72.0 608.0,73.0 603.0,72.0 600.0,65.0 600.0,50.0 599.0,35.0 598.7,20.0 596.0,10.0" fill="#e11a10" stroke="#1e14e6" stroke-width="1.3" stroke-linejoin="round"/>
<polygon points="643.5,24.0 646.0,26.0 650.5,35.0 651.2,45.0 650.2,56.0 643.3,56.0 643.0,40.0" fill="#e11a10" stroke="#1e14e6" stroke-width="1.3" stroke-linejoin="round"/>
<polygon points="575.0,8.0 579.0,8.0 578.0,20.0 576.0,35.0 574.2,40.0 573.8,50.0 576.5,60.0 576.5,75.0 568.6,75.0 569.3,50.0 569.7,40.0 572.4,25.0" fill="#46fa1e"/>
<polygon points="593.5,14.0 596.5,16.0 599.5,28.0 600.5,40.0 601.5,48.0 599.5,48.0 597.5,36.0 594.0,26.0" fill="#1e14e6"/>
<polygon points="642.0,56.0 651.0,56.0 650.0,63.0 646.0,68.0 643.0,64.0" fill="#1e14e6"/>
</g>
<rect x="550.8" y="61.0" width="115.3" height="14.0" filter="url(#fBS2)"/>
<rect x="550.8" y="67.0" width="115.3" height="8.0" filter="url(#fBS)"/>
<clipPath id="cb4"><polygon points="550.8,100.1 550.8,70.7 553.1,76.2 555.8,74.6 559.0,75.1 561.3,69.0 563.5,75.0 566.7,76.6 569.0,75.0 571.6,73.8 573.6,70.8 575.9,69.2 578.1,74.4 580.4,70.3 582.9,70.0 585.6,69.2 587.9,73.5 589.4,74.1 591.2,72.7 592.8,72.0 594.7,71.6 597.8,72.0 600.8,75.7 602.8,69.7 604.3,73.3 607.8,71.8 610.6,75.2 613.4,75.0 616.8,70.6 618.3,70.2 620.1,74.4 622.7,70.7 625.6,75.1 627.5,73.9 630.5,69.9 633.6,76.7 635.3,69.2 637.4,74.4 640.9,72.2 643.8,69.6 646.7,74.0 648.4,75.2 651.6,73.8 653.3,76.9 656.4,71.8 658.7,72.0 661.2,71.7 664.4,75.6 666.1,76.7 666.1,100.1" /></clipPath>
<g clip-path="url(#cb4)"><rect x="550.8" y="67.0" width="115.3" height="32.1" filter="url(#fA5)"/></g>
<clipPath id="cbl4"><polygon points="550.8,100.1 550.8,86.9 554.0,87.3 556.3,87.5 559.8,84.7 562.9,86.3 565.3,85.7 568.3,84.7 571.5,88.0 573.2,88.3 575.2,85.8 577.9,85.3 579.4,88.2 581.3,84.3 584.4,85.1 587.7,87.3 589.7,83.1 593.1,83.6 596.1,86.0 599.1,87.2 601.9,86.0 605.0,83.6 606.9,87.2 609.0,86.5 611.5,86.2 613.8,87.5 616.0,87.3 618.0,84.6 619.7,84.2 621.5,86.3 624.5,84.2 626.4,86.0 629.4,88.9 631.9,84.7 633.6,84.2 635.6,84.1 637.1,86.3 639.2,88.9 641.8,87.2 643.5,88.3 646.0,88.3 648.7,85.9 651.0,84.2 652.6,88.7 655.1,88.0 657.4,83.5 660.2,83.4 662.0,86.4 664.1,89.0 665.8,87.6 666.1,87.8 666.1,100.1" /></clipPath>
<g clip-path="url(#cbl4)"><rect x="550.8" y="82.0" width="115.3" height="17.0" filter="url(#fA5b)"/></g>
</g>
<clipPath id="cbb1"><polygon points="144.9,218.0 144.9,179.3 147.0,179.9 149.1,178.6 150.1,177.8 151.7,178.6 153.7,179.9 154.9,179.3 155.8,178.6 156.7,179.9 157.9,179.9 160.0,177.8 161.9,179.9 164.0,179.9 165.3,178.6 167.4,179.9 169.0,177.8 170.4,177.8 171.7,177.8 173.4,177.8 175.5,177.8 176.7,179.3 178.5,178.6 180.0,178.6 181.6,179.9 183.8,178.6 184.6,178.6 186.8,179.3 188.1,178.6 189.5,179.9 191.2,178.6 192.7,179.9 193.6,179.9 195.1,179.3 195.9,178.6 196.9,177.8 198.6,178.6 199.5,178.6 200.6,178.6 202.1,178.6 203.2,179.3 204.8,179.9 206.5,177.8 207.6,178.6 208.7,178.6 210.6,178.6 211.6,179.9 213.1,178.6 214.5,178.6 216.7,178.6 218.0,178.6 219.8,178.6 221.3,179.9 222.8,179.3 224.3,179.3 226.2,178.6 227.2,178.6 228.1,179.9 230.0,178.6 231.0,179.3 233.0,177.8 234.7,177.8 236.3,178.6 237.8,179.3 239.9,179.9 241.0,178.6 242.9,178.6 244.6,177.8 246.4,177.8 247.4,179.3 249.5,178.6 250.5,178.6 251.8,179.9 252.7,177.8 253.9,178.6 255.8,179.3 257.8,177.8 258.6,177.8 260.4,177.8 260.4,218.0" /></clipPath>
<g clip-path="url(#cbb1)">
<rect x="144.9" y="177.8" width="115.5" height="40.2" fill="#1e14e6"/>
<g filter="url(#wob)">
<rect x="144.9" y="174.8" width="1.3" height="43.2" fill="#46fa1e"/>
<rect x="147.6" y="174.8" width="0.8" height="43.2" filter="url(#fM)"/>
<rect x="151.1" y="174.8" width="1.2" height="43.2" fill="#46fa1e"/>
<rect x="155.4" y="174.8" width="4.4" height="43.2" fill="#46fa1e"/>
<rect x="159.8" y="174.8" width="1.3" height="43.2" filter="url(#fM)"/>
<rect x="161.1" y="174.8" width="1.8" height="43.2" fill="#46fa1e"/>
<rect x="164.6" y="174.8" width="5.7" height="43.2" filter="url(#fM)"/>
<rect x="170.3" y="174.8" width="4.0" height="43.2" fill="#46fa1e"/>
<rect x="175.1" y="174.8" width="1.3" height="43.2" fill="#46fa1e"/>
<rect x="179.5" y="174.8" width="1.3" height="43.2" fill="#46fa1e"/>
<rect x="180.8" y="174.8" width="2.7" height="43.2" filter="url(#fM)"/>
<rect x="183.5" y="174.8" width="6.5" height="43.2" fill="#46fa1e"/>
<rect x="193.1" y="174.8" width="1.7" height="43.2" filter="url(#fM)"/>
<rect x="197.0" y="174.8" width="4.7" height="43.2" fill="#46fa1e"/>
<rect x="203.5" y="174.8" width="3.1" height="43.2" filter="url(#fM)"/>
<rect x="208.9" y="174.8" width="3.6" height="43.2" fill="#46fa1e"/>
<rect x="212.5" y="174.8" width="2.3" height="43.2" filter="url(#fM)"/>
<rect x="214.8" y="174.8" width="3.6" height="43.2" fill="#46fa1e"/>
<rect x="218.4" y="174.8" width="6.3" height="43.2" filter="url(#fM)"/>
<rect x="224.7" y="174.8" width="3.2" height="43.2" fill="#46fa1e"/>
<rect x="232.0" y="174.8" width="0.9" height="43.2" fill="#46fa1e"/>
<rect x="234.3" y="174.8" width="1.3" height="43.2" fill="#46fa1e"/>
<rect x="238.3" y="174.8" width="0.9" height="43.2" fill="#46fa1e"/>
<rect x="240.6" y="174.8" width="1.3" height="43.2" fill="#46fa1e"/>
<rect x="244.2" y="174.8" width="1.3" height="43.2" fill="#46fa1e"/>
<rect x="247.3" y="174.8" width="1.4" height="43.2" filter="url(#fM)"/>
<rect x="254.1" y="174.8" width="1.4" height="43.2" fill="#46fa1e"/>
<rect x="256.9" y="174.8" width="0.9" height="43.2" fill="#46fa1e"/>
<rect x="148.8" y="174.8" width="3.2" height="25.7" fill="#e11a10"/>
<rect x="153.3" y="174.8" width="2.3" height="25.7" fill="#e11a10"/>
<rect x="176.8" y="174.8" width="3.2" height="25.7" fill="#e11a10"/>
<rect x="192.2" y="174.8" width="1.8" height="25.7" fill="#e11a10"/>
<rect x="198.1" y="174.8" width="1.8" height="25.7" fill="#e11a10"/>
<rect x="229.0" y="174.8" width="2.7" height="25.7" fill="#e11a10"/>
<rect x="236.2" y="174.8" width="1.8" height="25.7" fill="#e11a10"/>
<rect x="242.0" y="174.8" width="1.4" height="25.7" fill="#e11a10"/>
<rect x="248.4" y="174.8" width="5.4" height="25.7" fill="#e11a10"/>
<rect x="257.9" y="174.8" width="2.3" height="25.7" fill="#e11a10"/>
</g>
<clipPath id="cbz1"><polygon points="144.9,219.0 144.9,198.9 147.4,200.2 149.8,202.7 153.3,199.3 156.1,201.2 159.0,203.2 160.9,198.8 163.8,198.4 165.6,198.0 167.1,200.2 169.8,199.2 171.8,201.7 174.7,200.2 177.6,203.0 180.6,201.3 183.5,203.1 185.8,200.8 188.6,203.0 191.8,197.9 193.6,199.3 196.6,200.9 198.7,198.2 201.5,201.7 204.9,200.5 207.4,198.0 209.0,200.1 211.1,199.0 212.8,203.3 216.0,201.0 219.4,203.5 222.2,199.1 223.8,202.0 226.3,201.4 229.6,198.6 232.3,201.3 234.7,198.0 236.9,199.5 239.8,202.6 241.9,201.7 244.0,203.2 247.1,200.8 249.5,199.4 251.7,203.3 254.0,200.6 257.5,201.4 260.1,200.0 260.4,199.7 260.4,219.0" /></clipPath>
<g clip-path="url(#cbz1)"><rect x="144.9" y="195.5" width="115.5" height="22.5" filter="url(#fGB2)"/></g>
</g>
<clipPath id="cbb2"><polygon points="280.8,217.4 280.8,160.0 282.5,160.7 283.5,158.6 284.7,160.1 286.3,159.4 288.0,160.1 289.3,160.1 291.4,159.4 292.6,159.4 293.9,158.6 295.0,158.6 296.9,160.7 297.8,158.6 299.7,158.6 301.6,160.7 302.5,160.7 303.9,159.4 305.0,160.1 306.9,159.4 308.4,158.6 309.9,159.4 311.4,160.1 312.3,159.4 313.5,160.1 314.4,160.1 316.0,159.4 317.5,159.4 319.6,160.1 321.7,159.4 323.4,158.6 325.4,160.7 327.5,159.4 329.0,158.6 330.1,159.4 331.6,158.6 333.2,158.6 334.6,159.4 336.3,160.7 338.3,160.7 340.4,159.4 341.6,160.7 343.4,160.7 345.3,159.4 346.5,159.4 347.6,158.6 349.5,159.4 351.4,160.7 353.5,159.4 354.6,159.4 355.4,159.4 357.1,160.7 358.4,160.1 359.3,158.6 360.5,160.1 362.5,160.7 364.1,160.1 365.3,160.7 366.3,160.1 367.3,158.6 368.8,160.1 369.8,160.1 371.3,159.4 372.2,160.1 373.4,160.1 374.4,159.4 375.7,159.4 377.8,159.4 378.8,158.6 380.8,160.1 381.9,159.4 382.8,160.1 383.6,160.7 384.5,159.4 385.6,160.7 387.4,160.7 389.0,159.4 390.8,159.4 392.2,160.1 393.7,160.7 395.1,160.1 396.4,159.4 396.7,160.7 396.7,217.4" /></clipPath>
<g clip-path="url(#cbb2)">
<rect x="280.8" y="158.6" width="115.9" height="58.8" fill="#1e14e6"/>
<g filter="url(#wob)">
<rect x="280.8" y="155.6" width="1.3" height="61.8" fill="#46fa1e"/>
<rect x="283.5" y="155.6" width="0.8" height="61.8" filter="url(#fM)"/>
<rect x="287.0" y="155.6" width="1.2" height="61.8" fill="#46fa1e"/>
<rect x="291.3" y="155.6" width="4.4" height="61.8" fill="#46fa1e"/>
<rect x="295.7" y="155.6" width="1.3" height="61.8" filter="url(#fM)"/>
<rect x="297.0" y="155.6" width="1.8" height="61.8" fill="#46fa1e"/>
<rect x="300.5" y="155.6" width="5.7" height="61.8" filter="url(#fM)"/>
<rect x="306.2" y="155.6" width="4.0" height="61.8" fill="#46fa1e"/>
<rect x="311.0" y="155.6" width="1.3" height="61.8" fill="#46fa1e"/>
<rect x="315.4" y="155.6" width="1.3" height="61.8" fill="#46fa1e"/>
<rect x="316.7" y="155.6" width="2.7" height="61.8" filter="url(#fM)"/>
<rect x="319.4" y="155.6" width="6.5" height="61.8" fill="#46fa1e"/>
<rect x="329.0" y="155.6" width="1.7" height="61.8" filter="url(#fM)"/>
<rect x="332.9" y="155.6" width="4.7" height="61.8" fill="#46fa1e"/>
<rect x="339.4" y="155.6" width="3.1" height="61.8" filter="url(#fM)"/>
<rect x="344.8" y="155.6" width="3.6" height="61.8" fill="#46fa1e"/>
<rect x="348.4" y="155.6" width="2.3" height="61.8" filter="url(#fM)"/>
<rect x="350.7" y="155.6" width="3.6" height="61.8" fill="#46fa1e"/>
<rect x="354.3" y="155.6" width="6.3" height="61.8" filter="url(#fM)"/>
<rect x="360.6" y="155.6" width="3.2" height="61.8" fill="#46fa1e"/>
<rect x="367.9" y="155.6" width="0.9" height="61.8" fill="#46fa1e"/>
<rect x="370.2" y="155.6" width="1.3" height="61.8" fill="#46fa1e"/>
<rect x="374.2" y="155.6" width="0.9" height="61.8" fill="#46fa1e"/>
<rect x="376.5" y="155.6" width="1.3" height="61.8" fill="#46fa1e"/>
<rect x="380.1" y="155.6" width="1.3" height="61.8" fill="#46fa1e"/>
<rect x="383.2" y="155.6" width="1.4" height="61.8" filter="url(#fM)"/>
<rect x="390.0" y="155.6" width="1.4" height="61.8" fill="#46fa1e"/>
<rect x="392.8" y="155.6" width="0.9" height="61.8" fill="#46fa1e"/>
<line x1="387.2" y1="155.6" x2="387.2" y2="199.5" stroke="#e11a10" stroke-width="4.3" stroke-dasharray="3 1.5 1 3 4 2 1.5 1 2 4"/>
<line x1="395.1" y1="155.6" x2="395.1" y2="199.5" stroke="#e11a10" stroke-width="2.3" stroke-dasharray="3 1.5 1 3 4 2 1.5 1 2 4"/>
<line x1="366.1" y1="155.6" x2="366.1" y2="199.5" stroke="#e11a10" stroke-width="1.8" stroke-dasharray="3 1.5 1 3 4 2 1.5 1 2 4"/>
</g>
<clipPath id="cbz2"><polygon points="280.8,218.4 280.8,201.0 283.6,201.1 285.5,199.8 288.8,199.1 291.7,197.2 295.2,200.2 297.1,197.5 299.7,199.8 301.4,202.5 304.7,199.3 306.5,201.5 309.0,200.8 311.5,198.1 314.7,202.4 316.7,199.8 318.9,202.0 321.4,201.8 324.7,198.2 327.7,199.0 331.1,199.5 334.3,198.2 336.4,200.0 339.9,199.4 341.6,199.7 343.8,199.8 346.4,199.2 348.6,197.6 351.5,199.9 353.4,201.2 355.0,201.0 357.9,201.4 360.2,200.5 363.3,202.4 365.8,196.7 368.3,200.0 371.6,201.7 374.0,199.7 376.4,200.8 378.7,200.4 380.5,199.3 383.9,198.5 386.8,200.4 390.0,201.6 393.2,198.8 395.4,200.8 396.7,201.7 396.7,218.4" /></clipPath>
<g clip-path="url(#cbz2)"><rect x="280.8" y="194.5" width="115.9" height="22.9" filter="url(#fGB)"/></g>
</g>
<clipPath id="cbb3"><polygon points="416.9,217.5 416.9,147.5 418.7,146.5 420.3,147.8 421.5,147.8 423.4,145.7 424.4,146.5 425.8,147.8 427.7,146.5 429.6,145.7 430.9,147.8 432.5,145.7 434.4,145.7 436.1,147.2 437.9,145.7 439.2,146.5 440.1,146.5 441.6,147.8 443.2,146.5 445.0,147.8 446.8,147.8 448.4,147.8 450.0,145.7 452.2,146.5 453.2,145.7 454.3,146.5 455.3,146.5 456.2,146.5 457.6,146.5 459.1,147.2 460.8,146.5 462.8,147.8 464.4,146.5 465.2,146.5 466.4,146.5 468.2,145.7 469.4,146.5 471.4,147.2 472.5,147.8 474.2,146.5 475.2,147.2 476.0,145.7 477.3,147.8 478.9,145.7 480.0,147.8 481.2,146.5 483.2,147.8 484.7,146.5 486.0,147.2 488.1,147.2 489.1,146.5 490.2,147.2 491.7,147.2 493.7,146.5 495.4,146.5 497.4,147.2 499.4,146.5 501.0,147.2 502.5,147.8 503.7,147.8 504.9,147.8 506.3,147.8 507.5,146.5 509.6,147.2 511.7,147.2 513.7,146.5 515.2,145.7 516.8,147.2 518.8,147.2 520.1,147.8 521.1,146.5 522.9,146.5 524.8,146.5 526.4,145.7 527.7,147.2 528.8,146.5 530.7,146.5 531.8,147.2 532.1,147.2 532.1,217.5" /></clipPath>
<g clip-path="url(#cbb3)">
<rect x="416.9" y="145.7" width="115.2" height="71.8" fill="#1e14e6"/>
<g filter="url(#wob)">
<rect x="416.9" y="142.7" width="1.3" height="74.8" fill="#46fa1e"/>
<rect x="419.6" y="142.7" width="0.8" height="74.8" filter="url(#fM)"/>
<rect x="423.1" y="142.7" width="1.2" height="74.8" fill="#46fa1e"/>
<rect x="427.4" y="142.7" width="4.4" height="74.8" fill="#46fa1e"/>
<rect x="431.8" y="142.7" width="1.3" height="74.8" filter="url(#fM)"/>
<rect x="433.1" y="142.7" width="1.8" height="74.8" fill="#46fa1e"/>
<rect x="436.6" y="142.7" width="5.7" height="74.8" filter="url(#fM)"/>
<rect x="442.3" y="142.7" width="4.0" height="74.8" fill="#46fa1e"/>
<rect x="447.1" y="142.7" width="1.3" height="74.8" fill="#46fa1e"/>
<rect x="451.5" y="142.7" width="1.3" height="74.8" fill="#46fa1e"/>
<rect x="452.8" y="142.7" width="2.7" height="74.8" filter="url(#fM)"/>
<rect x="455.5" y="142.7" width="6.5" height="74.8" fill="#46fa1e"/>
<rect x="465.1" y="142.7" width="1.7" height="74.8" filter="url(#fM)"/>
<rect x="469.0" y="142.7" width="4.7" height="74.8" fill="#46fa1e"/>
<rect x="475.5" y="142.7" width="3.1" height="74.8" filter="url(#fM)"/>
<rect x="480.9" y="142.7" width="3.6" height="74.8" fill="#46fa1e"/>
<rect x="484.5" y="142.7" width="2.3" height="74.8" filter="url(#fM)"/>
<rect x="486.8" y="142.7" width="3.6" height="74.8" fill="#46fa1e"/>
<rect x="490.4" y="142.7" width="6.3" height="74.8" filter="url(#fM)"/>
<rect x="496.7" y="142.7" width="3.2" height="74.8" fill="#46fa1e"/>
<rect x="504.0" y="142.7" width="0.9" height="74.8" fill="#46fa1e"/>
<rect x="506.3" y="142.7" width="1.3" height="74.8" fill="#46fa1e"/>
<rect x="510.3" y="142.7" width="0.9" height="74.8" fill="#46fa1e"/>
<rect x="512.6" y="142.7" width="1.3" height="74.8" fill="#46fa1e"/>
<rect x="516.2" y="142.7" width="1.3" height="74.8" fill="#46fa1e"/>
<rect x="519.3" y="142.7" width="1.4" height="74.8" filter="url(#fM)"/>
<rect x="526.1" y="142.7" width="1.4" height="74.8" fill="#46fa1e"/>
<rect x="528.9" y="142.7" width="0.9" height="74.8" fill="#46fa1e"/>
<line x1="522.9" y1="142.7" x2="522.9" y2="199.5" stroke="#e11a10" stroke-width="3.2" stroke-dasharray="3 1.5 1 3 4 2 1.5 1 2 4"/>
<line x1="531.0" y1="142.7" x2="531.0" y2="199.5" stroke="#e11a10" stroke-width="2.3" stroke-dasharray="3 1.5 1 3 4 2 1.5 1 2 4"/>
</g>
<clipPath id="cbz3"><polygon points="416.9,218.5 416.9,196.7 418.5,200.3 421.9,202.5 424.9,199.1 426.6,200.3 429.8,199.2 432.7,201.9 434.3,201.3 436.4,198.7 438.2,199.7 440.8,201.3 442.6,197.0 445.9,200.2 447.9,202.0 449.7,199.3 451.7,198.0 453.2,201.3 456.5,200.6 458.3,199.2 460.5,200.0 463.3,199.0 465.3,201.6 467.2,198.8 469.6,197.9 472.3,199.9 475.8,198.3 479.2,200.4 481.3,199.9 484.1,201.0 485.7,200.1 488.2,201.9 490.3,201.3 493.0,198.6 495.8,200.2 498.6,200.8 501.5,201.5 504.2,201.9 507.0,198.4 509.4,200.0 512.4,197.0 514.4,201.0 516.3,197.3 518.9,202.3 521.4,202.0 524.6,198.0 527.8,199.4 530.9,201.0 532.1,197.2 532.1,218.5" /></clipPath>
<g clip-path="url(#cbz3)"><rect x="416.9" y="194.5" width="115.2" height="23.0" filter="url(#fGB)"/></g>
</g>
<clipPath id="cbb4"><polygon points="552.7,217.2 552.7,129.3 554.8,128.1 555.7,127.3 557.2,128.1 558.9,128.8 561.0,129.4 563.1,128.1 565.1,128.8 567.0,127.3 569.2,127.3 570.1,128.1 572.1,128.1 573.0,128.8 574.3,128.1 576.4,129.4 578.6,128.1 579.8,127.3 581.9,128.1 583.1,128.8 584.4,127.3 585.9,128.8 586.7,127.3 587.8,128.1 589.0,129.4 590.5,128.1 592.3,127.3 594.2,129.4 595.8,128.1 597.5,129.4 599.4,128.1 600.4,128.1 602.1,127.3 604.2,128.1 605.7,129.4 607.6,128.1 608.7,128.8 610.4,128.1 611.6,128.1 612.8,128.1 613.7,127.3 614.7,128.1 616.3,127.3 617.2,127.3 618.6,128.1 620.7,129.4 622.6,129.4 623.7,128.1 625.7,129.4 627.1,129.4 628.4,128.1 630.2,128.8 632.2,127.3 633.7,128.8 635.2,129.4 637.3,128.1 638.9,127.3 640.5,128.8 641.3,128.8 642.6,128.8 643.9,127.3 645.8,128.1 647.2,128.1 648.9,127.3 649.8,128.8 650.8,127.3 652.9,128.1 654.5,128.1 656.2,129.4 657.5,129.4 658.8,128.8 659.8,128.1 661.4,129.4 662.6,127.3 664.7,128.1 666.8,129.4 668.1,129.4 668.3,129.4 668.3,217.2" /></clipPath>
<g clip-path="url(#cbb4)">
<rect x="552.7" y="127.3" width="115.6" height="89.9" fill="#1e14e6"/>
<g filter="url(#wob)">
<rect x="552.7" y="124.3" width="1.3" height="92.9" fill="#46fa1e"/>
<rect x="555.4" y="124.3" width="0.8" height="92.9" filter="url(#fM)"/>
<rect x="558.9" y="124.3" width="1.2" height="92.9" fill="#46fa1e"/>
<rect x="563.2" y="124.3" width="4.4" height="92.9" fill="#46fa1e"/>
<rect x="567.6" y="124.3" width="1.3" height="92.9" filter="url(#fM)"/>
<rect x="568.9" y="124.3" width="1.8" height="92.9" fill="#46fa1e"/>
<rect x="572.4" y="124.3" width="5.7" height="92.9" filter="url(#fM)"/>
<rect x="578.1" y="124.3" width="4.0" height="92.9" fill="#46fa1e"/>
<rect x="582.9" y="124.3" width="1.3" height="92.9" fill="#46fa1e"/>
<rect x="587.3" y="124.3" width="1.3" height="92.9" fill="#46fa1e"/>
<rect x="588.6" y="124.3" width="2.7" height="92.9" filter="url(#fM)"/>
<rect x="591.3" y="124.3" width="6.5" height="92.9" fill="#46fa1e"/>
<rect x="600.9" y="124.3" width="1.7" height="92.9" filter="url(#fM)"/>
<rect x="604.8" y="124.3" width="4.7" height="92.9" fill="#46fa1e"/>
<rect x="611.3" y="124.3" width="3.1" height="92.9" filter="url(#fM)"/>
<rect x="616.7" y="124.3" width="3.6" height="92.9" fill="#46fa1e"/>
<rect x="620.3" y="124.3" width="2.3" height="92.9" filter="url(#fM)"/>
<rect x="622.6" y="124.3" width="3.6" height="92.9" fill="#46fa1e"/>
<rect x="626.2" y="124.3" width="6.3" height="92.9" filter="url(#fM)"/>
<rect x="632.5" y="124.3" width="3.2" height="92.9" fill="#46fa1e"/>
<rect x="639.8" y="124.3" width="0.9" height="92.9" fill="#46fa1e"/>
<rect x="642.1" y="124.3" width="1.3" height="92.9" fill="#46fa1e"/>
<rect x="646.1" y="124.3" width="0.9" height="92.9" fill="#46fa1e"/>
<rect x="648.4" y="124.3" width="1.3" height="92.9" fill="#46fa1e"/>
<rect x="652.0" y="124.3" width="1.3" height="92.9" fill="#46fa1e"/>
<rect x="655.1" y="124.3" width="1.4" height="92.9" filter="url(#fM)"/>
<rect x="661.9" y="124.3" width="1.4" height="92.9" fill="#46fa1e"/>
<rect x="664.7" y="124.3" width="0.9" height="92.9" fill="#46fa1e"/>
</g>
<clipPath id="cbz4"><polygon points="552.7,218.2 552.7,201.6 554.5,201.6 557.7,200.1 561.2,201.6 564.3,198.0 567.4,195.9 569.9,198.5 572.8,199.8 575.4,200.7 578.8,196.5 580.8,196.0 584.1,199.2 587.4,197.1 589.0,200.7 592.3,197.6 594.6,196.6 598.0,197.6 600.5,196.4 603.8,196.6 606.2,199.8 609.2,201.5 611.5,200.3 613.3,198.3 615.0,198.7 617.4,201.5 618.9,198.0 621.3,201.5 624.5,196.4 627.4,199.1 630.8,198.0 633.1,196.9 634.9,200.9 637.3,199.8 640.1,199.4 641.6,200.5 643.6,196.6 646.2,196.2 649.3,197.0 651.2,201.0 653.4,196.7 656.7,195.8 659.9,196.7 661.6,197.3 663.5,199.8 665.0,195.9 668.1,197.2 668.3,196.8 668.3,218.2" /></clipPath>
<g clip-path="url(#cbz4)"><rect x="552.7" y="193.8" width="115.6" height="23.4" filter="url(#fGB)"/></g>
</g>
</g>
<text x="5.2" y="18.4" font-size="17" font-weight="bold" fill="#fff" font-family="Liberation Sans, sans-serif">a</text>
<text x="31.9" y="18.4" font-size="15.6" textLength="205" lengthAdjust="spacingAndGlyphs" fill="#fff" font-family="Liberation Sans, sans-serif">Absence of peripheral killing</text>
<text x="6.9" y="143.4" font-size="17" font-weight="bold" fill="#fff" font-family="Liberation Sans, sans-serif">b</text>
<text x="31" y="143.4" font-size="15.6" textLength="209.8" lengthAdjust="spacingAndGlyphs" fill="#fff" font-family="Liberation Sans, sans-serif">Presence of peripheral killing</text>
<text x="5.2" y="257.4" font-size="17" font-weight="bold" fill="#000" font-family="Liberation Sans, sans-serif">c</text>
<text x="364.6" y="257.3" font-size="17" font-weight="bold" fill="#000" font-family="Liberation Sans, sans-serif">d</text>
<rect x="60.5" y="269.4" width="49" height="13.700000000000045" fill="#fff" stroke="#333" stroke-width="1"/>
<text x="85.0" y="280.1" text-anchor="middle" font-size="9.3" fill="#1a1a1a" font-family="Liberation Sans, sans-serif">1e-04</text>
<line x1="59.5" y1="283.6" x2="59.5" y2="380.4" stroke="#444444" stroke-width="1"/>
<path d="M73.1,305.5 V303.5 H96.7 V305.5" fill="none" stroke="#333" stroke-width="1"/>
<text x="84.6" y="298.6" text-anchor="middle" font-size="8.7" fill="#1a1a1a" font-family="Liberation Sans, sans-serif">4.5e-05</text>
<circle cx="72" cy="371.5" r="4" fill="#bebebe"/>
<circle cx="75.5" cy="371.0" r="4" fill="#bebebe"/>
<circle cx="78" cy="371.5" r="4" fill="#bebebe"/>
<circle cx="93" cy="356.5" r="4" fill="#000"/>
<circle cx="97.5" cy="353.8" r="4" fill="#000"/>
<circle cx="100.5" cy="358" r="4" fill="#000"/>
<circle cx="96.5" cy="358.5" r="4" fill="#000"/>
<rect x="114.3" y="269.4" width="49" height="13.700000000000045" fill="#fff" stroke="#333" stroke-width="1"/>
<text x="138.8" y="280.1" text-anchor="middle" font-size="9.3" fill="#1a1a1a" font-family="Liberation Sans, sans-serif">2e-04</text>
<path d="M126.89999999999999,305.5 V303.5 H150.5 V305.5" fill="none" stroke="#333" stroke-width="1"/>
<text x="138.4" y="298.6" text-anchor="middle" font-size="8.7" fill="#1a1a1a" font-family="Liberation Sans, sans-serif">0.0036</text>
<circle cx="126" cy="368" r="4" fill="#bebebe"/>
<circle cx="129" cy="367.5" r="4" fill="#bebebe"/>
<circle cx="132" cy="368" r="4" fill="#bebebe"/>
<circle cx="146.5" cy="345" r="4" fill="#000"/>
<circle cx="151.5" cy="341.5" r="4" fill="#000"/>
<circle cx="154.5" cy="345" r="4" fill="#000"/>
<circle cx="148" cy="360.5" r="4" fill="#000"/>
<rect x="168.1" y="269.4" width="49" height="13.700000000000045" fill="#fff" stroke="#333" stroke-width="1"/>
<text x="192.6" y="280.1" text-anchor="middle" font-size="9.3" fill="#1a1a1a" font-family="Liberation Sans, sans-serif">3e-04</text>
<path d="M180.7,305.5 V303.5 H204.3 V305.5" fill="none" stroke="#333" stroke-width="1"/>
<text x="192.2" y="298.6" text-anchor="middle" font-size="8.7" fill="#1a1a1a" font-family="Liberation Sans, sans-serif">2.4e-06</text>
<circle cx="180" cy="364.2" r="4" fill="#bebebe"/>
<circle cx="183" cy="364" r="4" fill="#bebebe"/>
<circle cx="186" cy="364.2" r="4" fill="#bebebe"/>
<circle cx="200.5" cy="337" r="4" fill="#000"/>
<circle cx="205" cy="337.5" r="4" fill="#000"/>
<circle cx="208.5" cy="333.5" r="4" fill="#000"/>
<circle cx="203" cy="336" r="4" fill="#000"/>
<rect x="221.9" y="269.4" width="49" height="13.700000000000045" fill="#fff" stroke="#333" stroke-width="1"/>
<text x="246.4" y="280.1" text-anchor="middle" font-size="9.3" fill="#1a1a1a" font-family="Liberation Sans, sans-serif">4e-04</text>
<path d="M234.5,305.5 V303.5 H258.1 V305.5" fill="none" stroke="#333" stroke-width="1"/>
<text x="246.0" y="298.6" text-anchor="middle" font-size="8.7" fill="#1a1a1a" font-family="Liberation Sans, sans-serif">6.9e-07</text>
<circle cx="234" cy="363" r="4" fill="#bebebe"/>
<circle cx="238.5" cy="360" r="4" fill="#bebebe"/>
<circle cx="240" cy="363" r="4" fill="#bebebe"/>
<circle cx="254" cy="331.5" r="4" fill="#000"/>
<circle cx="257.5" cy="336.5" r="4" fill="#000"/>
<circle cx="262.5" cy="338" r="4" fill="#000"/>
<circle cx="256" cy="334" r="4" fill="#000"/>
<rect x="275.7" y="269.4" width="49" height="13.700000000000045" fill="#fff" stroke="#333" stroke-width="1"/>
<text x="300.2" y="280.1" text-anchor="middle" font-size="9.3" fill="#1a1a1a" font-family="Liberation Sans, sans-serif">5e-04</text>
<path d="M288.3,305.5 V303.5 H311.9 V305.5" fill="none" stroke="#333" stroke-width="1"/>
<text x="299.8" y="298.6" text-anchor="middle" font-size="8.7" fill="#1a1a1a" font-family="Liberation Sans, sans-serif">4.1e-07</text>
<circle cx="288" cy="360.5" r="4" fill="#bebebe"/>
<circle cx="294" cy="357" r="4" fill="#bebebe"/>
<circle cx="291" cy="362" r="4" fill="#bebebe"/>
<circle cx="308.5" cy="331" r="4" fill="#000"/>
<circle cx="317" cy="330.5" r="4" fill="#000"/>
<circle cx="313" cy="337" r="4" fill="#000"/>
<circle cx="311" cy="332" r="4" fill="#000"/>
<line x1="57.6" y1="376.0" x2="60" y2="376.0" stroke="#444444" stroke-width="1.1"/>
<text x="56" y="380.3" text-anchor="end" font-size="11.8" fill="#4d4d4d" font-family="Liberation Sans, sans-serif">0.00</text>
<line x1="57.6" y1="354.0" x2="60" y2="354.0" stroke="#444444" stroke-width="1.1"/>
<text x="56" y="358.3" text-anchor="end" font-size="11.8" fill="#4d4d4d" font-family="Liberation Sans, sans-serif">0.25</text>
<line x1="57.6" y1="332.0" x2="60" y2="332.0" stroke="#444444" stroke-width="1.1"/>
<text x="56" y="336.3" text-anchor="end" font-size="11.8" fill="#4d4d4d" font-family="Liberation Sans, sans-serif">0.50</text>
<line x1="57.6" y1="310.0" x2="60" y2="310.0" stroke="#444444" stroke-width="1.1"/>
<text x="56" y="314.3" text-anchor="end" font-size="11.8" fill="#4d4d4d" font-family="Liberation Sans, sans-serif">0.75</text>
<line x1="57.6" y1="288.0" x2="60" y2="288.0" stroke="#444444" stroke-width="1.1"/>
<text x="56" y="292.3" text-anchor="end" font-size="11.8" fill="#4d4d4d" font-family="Liberation Sans, sans-serif">1.00</text>
<rect x="60.5" y="384.8" width="49" height="14.199999999999989" fill="#fff" stroke="#333" stroke-width="1"/>
<text x="85.0" y="396.0" text-anchor="middle" font-size="9.3" fill="#1a1a1a" font-family="Liberation Sans, sans-serif">6e-04</text>
<line x1="59.5" y1="399.5" x2="59.5" y2="496.5" stroke="#444444" stroke-width="1"/>
<line x1="59" y1="495.5" x2="110" y2="495.5" stroke="#444444" stroke-width="1"/>
<line x1="73.2" y1="496.0" x2="73.2" y2="498.2" stroke="#444444" stroke-width="1.1"/>
<text transform="translate(80.0,505.8) rotate(-45)" text-anchor="end" font-size="12.4" fill="#4d4d4d" font-family="Liberation Sans, sans-serif">Absent</text>
<line x1="96.6" y1="496.0" x2="96.6" y2="498.2" stroke="#444444" stroke-width="1.1"/>
<text transform="translate(103.4,505.8) rotate(-45)" text-anchor="end" font-size="12.4" fill="#4d4d4d" font-family="Liberation Sans, sans-serif">Present</text>
<path d="M73.1,421.4 V419.4 H96.7 V421.4" fill="none" stroke="#333" stroke-width="1"/>
<text x="84.6" y="414.5" text-anchor="middle" font-size="8.7" fill="#1a1a1a" font-family="Liberation Sans, sans-serif">4e-07</text>
<circle cx="72" cy="470" r="4" fill="#bebebe"/>
<circle cx="71.5" cy="476" r="4" fill="#bebebe"/>
<circle cx="78" cy="474" r="4" fill="#bebebe"/>
<circle cx="92.5" cy="448" r="4" fill="#000"/>
<circle cx="97.5" cy="451" r="4" fill="#000"/>
<circle cx="101" cy="449.5" r="4" fill="#000"/>
<circle cx="95" cy="449" r="4" fill="#000"/>
<rect x="114.3" y="384.8" width="49" height="14.199999999999989" fill="#fff" stroke="#333" stroke-width="1"/>
<text x="138.8" y="396.0" text-anchor="middle" font-size="9.3" fill="#1a1a1a" font-family="Liberation Sans, sans-serif">7e-04</text>
<line x1="112.8" y1="495.5" x2="163.8" y2="495.5" stroke="#444444" stroke-width="1"/>
<line x1="127.0" y1="496.0" x2="127.0" y2="498.2" stroke="#444444" stroke-width="1.1"/>
<text transform="translate(133.8,505.8) rotate(-45)" text-anchor="end" font-size="12.4" fill="#4d4d4d" font-family="Liberation Sans, sans-serif">Absent</text>
<line x1="150.4" y1="496.0" x2="150.4" y2="498.2" stroke="#444444" stroke-width="1.1"/>
<text transform="translate(157.2,505.8) rotate(-45)" text-anchor="end" font-size="12.4" fill="#4d4d4d" font-family="Liberation Sans, sans-serif">Present</text>
<path d="M126.89999999999999,421.4 V419.4 H150.5 V421.4" fill="none" stroke="#333" stroke-width="1"/>
<text x="138.4" y="414.5" text-anchor="middle" font-size="8.7" fill="#1a1a1a" font-family="Liberation Sans, sans-serif">1.5e-08</text>
<circle cx="126" cy="472.5" r="4" fill="#bebebe"/>
<circle cx="131" cy="470.5" r="4" fill="#bebebe"/>
<circle cx="128" cy="471" r="4" fill="#bebebe"/>
<circle cx="146.5" cy="445" r="4" fill="#000"/>
<circle cx="151" cy="447" r="4" fill="#000"/>
<circle cx="154" cy="449" r="4" fill="#000"/>
<rect x="168.1" y="384.8" width="49" height="14.199999999999989" fill="#fff" stroke="#333" stroke-width="1"/>
<text x="192.6" y="396.0" text-anchor="middle" font-size="9.3" fill="#1a1a1a" font-family="Liberation Sans, sans-serif">8e-04</text>
<line x1="166.6" y1="495.5" x2="217.6" y2="495.5" stroke="#444444" stroke-width="1"/>
<line x1="180.79999999999998" y1="496.0" x2="180.79999999999998" y2="498.2" stroke="#444444" stroke-width="1.1"/>
<text transform="translate(187.6,505.8) rotate(-45)" text-anchor="end" font-size="12.4" fill="#4d4d4d" font-family="Liberation Sans, sans-serif">Absent</text>
<line x1="204.2" y1="496.0" x2="204.2" y2="498.2" stroke="#444444" stroke-width="1.1"/>
<text transform="translate(211.0,505.8) rotate(-45)" text-anchor="end" font-size="12.4" fill="#4d4d4d" font-family="Liberation Sans, sans-serif">Present</text>
<path d="M180.7,421.4 V419.4 H204.3 V421.4" fill="none" stroke="#333" stroke-width="1"/>
<text x="192.2" y="414.5" text-anchor="middle" font-size="8.7" fill="#1a1a1a" font-family="Liberation Sans, sans-serif">6.7e-07</text>
<circle cx="180" cy="468" r="4" fill="#bebebe"/>
<circle cx="185.5" cy="470" r="4" fill="#bebebe"/>
<circle cx="183" cy="469" r="4" fill="#bebebe"/>
<circle cx="201" cy="447" r="4" fill="#000"/>
<circle cx="206.5" cy="450.5" r="4" fill="#000"/>
<circle cx="209" cy="447" r="4" fill="#000"/>
<circle cx="204" cy="451" r="4" fill="#000"/>
<rect x="221.9" y="384.8" width="49" height="14.199999999999989" fill="#fff" stroke="#333" stroke-width="1"/>
<text x="246.4" y="396.0" text-anchor="middle" font-size="9.3" fill="#1a1a1a" font-family="Liberation Sans, sans-serif">9e-04</text>
<line x1="220.4" y1="495.5" x2="271.4" y2="495.5" stroke="#444444" stroke-width="1"/>
<line x1="234.6" y1="496.0" x2="234.6" y2="498.2" stroke="#444444" stroke-width="1.1"/>
<text transform="translate(241.4,505.8) rotate(-45)" text-anchor="end" font-size="12.4" fill="#4d4d4d" font-family="Liberation Sans, sans-serif">Absent</text>
<line x1="258.0" y1="496.0" x2="258.0" y2="498.2" stroke="#444444" stroke-width="1.1"/>
<text transform="translate(264.8,505.8) rotate(-45)" text-anchor="end" font-size="12.4" fill="#4d4d4d" font-family="Liberation Sans, sans-serif">Present</text>
<path d="M234.5,421.4 V419.4 H258.1 V421.4" fill="none" stroke="#333" stroke-width="1"/>
<text x="246.0" y="414.5" text-anchor="middle" font-size="8.7" fill="#1a1a1a" font-family="Liberation Sans, sans-serif">8.8e-08</text>
<circle cx="234" cy="471" r="4" fill="#bebebe"/>
<circle cx="238.5" cy="467.5" r="4" fill="#bebebe"/>
<circle cx="239.5" cy="471" r="4" fill="#bebebe"/>
<circle cx="254" cy="447.5" r="4" fill="#000"/>
<circle cx="259" cy="444.5" r="4" fill="#000"/>
<circle cx="262" cy="450" r="4" fill="#000"/>
<rect x="275.7" y="384.8" width="49" height="14.199999999999989" fill="#fff" stroke="#333" stroke-width="1"/>
<text x="300.2" y="396.0" text-anchor="middle" font-size="9.3" fill="#1a1a1a" font-family="Liberation Sans, sans-serif">0.001</text>
<line x1="274.2" y1="495.5" x2="325.2" y2="495.5" stroke="#444444" stroke-width="1"/>
<line x1="288.4" y1="496.0" x2="288.4" y2="498.2" stroke="#444444" stroke-width="1.1"/>
<text transform="translate(295.2,505.8) rotate(-45)" text-anchor="end" font-size="12.4" fill="#4d4d4d" font-family="Liberation Sans, sans-serif">Absent</text>
<line x1="311.8" y1="496.0" x2="311.8" y2="498.2" stroke="#444444" stroke-width="1.1"/>
<text transform="translate(318.6,505.8) rotate(-45)" text-anchor="end" font-size="12.4" fill="#4d4d4d" font-family="Liberation Sans, sans-serif">Present</text>
<path d="M288.3,421.4 V419.4 H311.9 V421.4" fill="none" stroke="#333" stroke-width="1"/>
<text x="299.8" y="414.5" text-anchor="middle" font-size="8.7" fill="#1a1a1a" font-family="Liberation Sans, sans-serif">6e-06</text>
<circle cx="288" cy="464" r="4" fill="#bebebe"/>
<circle cx="295" cy="464" r="4" fill="#bebebe"/>
<circle cx="290" cy="470.5" r="4" fill="#bebebe"/>
<circle cx="289" cy="467" r="4" fill="#bebebe"/>
<circle cx="308.5" cy="442.5" r="4" fill="#000"/>
<circle cx="316.5" cy="444.5" r="4" fill="#000"/>
<circle cx="312" cy="448" r="4" fill="#000"/>
<line x1="57.6" y1="491.6" x2="60" y2="491.6" stroke="#444444" stroke-width="1.1"/>
<text x="56" y="495.9" text-anchor="end" font-size="11.8" fill="#4d4d4d" font-family="Liberation Sans, sans-serif">0.00</text>
<line x1="57.6" y1="469.6" x2="60" y2="469.6" stroke="#444444" stroke-width="1.1"/>
<text x="56" y="473.9" text-anchor="end" font-size="11.8" fill="#4d4d4d" font-family="Liberation Sans, sans-serif">0.25</text>
<line x1="57.6" y1="447.6" x2="60" y2="447.6" stroke="#444444" stroke-width="1.1"/>
<text x="56" y="451.9" text-anchor="end" font-size="11.8" fill="#4d4d4d" font-family="Liberation Sans, sans-serif">0.50</text>
<line x1="57.6" y1="425.6" x2="60" y2="425.6" stroke="#444444" stroke-width="1.1"/>
<text x="56" y="429.9" text-anchor="end" font-size="11.8" fill="#4d4d4d" font-family="Liberation Sans, sans-serif">0.75</text>
<line x1="57.6" y1="403.6" x2="60" y2="403.6" stroke="#444444" stroke-width="1.1"/>
<text x="56" y="407.9" text-anchor="end" font-size="11.8" fill="#4d4d4d" font-family="Liberation Sans, sans-serif">1.00</text>
<text transform="translate(21.4,491.4) rotate(-90)" font-size="13.7" textLength="203.3" lengthAdjust="spacingAndGlyphs" fill="#000" font-family="Liberation Sans, sans-serif">Proportion of transconjugant cells</text>
<text x="138.6" y="556.1" font-size="14.5" textLength="110.8" lengthAdjust="spacingAndGlyphs" fill="#000" font-family="Liberation Sans, sans-serif">Peripheral killing</text>
<line x1="418.5" y1="269.6" x2="418.5" y2="513.5" stroke="#444444" stroke-width="1"/>
<line x1="418" y1="513.5" x2="656.8" y2="513.5" stroke="#444444" stroke-width="1"/>
<line x1="415.6" y1="502.1" x2="418.2" y2="502.1" stroke="#444444" stroke-width="1.1"/>
<text x="414" y="506.8" text-anchor="end" font-size="12.9" fill="#4d4d4d" font-family="Liberation Sans, sans-serif">0.0</text>
<line x1="415.6" y1="428.2" x2="418.2" y2="428.2" stroke="#444444" stroke-width="1.1"/>
<text x="414" y="432.9" text-anchor="end" font-size="12.9" fill="#4d4d4d" font-family="Liberation Sans, sans-serif">0.2</text>
<line x1="415.6" y1="354.3" x2="418.2" y2="354.3" stroke="#444444" stroke-width="1.1"/>
<text x="414" y="359.0" text-anchor="end" font-size="12.9" fill="#4d4d4d" font-family="Liberation Sans, sans-serif">0.4</text>
<line x1="415.6" y1="280.4" x2="418.2" y2="280.4" stroke="#444444" stroke-width="1.1"/>
<text x="414" y="285.1" text-anchor="end" font-size="12.9" fill="#4d4d4d" font-family="Liberation Sans, sans-serif">0.6</text>
<line x1="429.6" y1="513.3" x2="429.6" y2="515.8" stroke="#444444" stroke-width="1.1"/>
<text x="429.6" y="527.2" text-anchor="middle" font-size="12.9" fill="#4d4d4d" font-family="Liberation Sans, sans-serif">1.0e-04</text>
<line x1="538.0" y1="513.3" x2="538.0" y2="515.8" stroke="#444444" stroke-width="1.1"/>
<text x="538.0" y="527.2" text-anchor="middle" font-size="12.9" fill="#4d4d4d" font-family="Liberation Sans, sans-serif">5.5e-04</text>
<line x1="646.3" y1="513.3" x2="646.3" y2="515.8" stroke="#444444" stroke-width="1.1"/>
<text x="646.3" y="527.2" text-anchor="middle" font-size="12.9" fill="#4d4d4d" font-family="Liberation Sans, sans-serif">1.0e-03</text>
<circle cx="429.6" cy="481.3" r="4.1" fill="#bebebe"/>
<circle cx="429.6" cy="484.8" r="4.1" fill="#bebebe"/>
<circle cx="453.7" cy="465.7" r="4.1" fill="#bebebe"/>
<circle cx="453.7" cy="469.6" r="4.1" fill="#bebebe"/>
<circle cx="477.8" cy="450.9" r="4.1" fill="#bebebe"/>
<circle cx="477.8" cy="453.6" r="4.1" fill="#bebebe"/>
<circle cx="501.8" cy="436.6" r="4.1" fill="#bebebe"/>
<circle cx="501.8" cy="440.2" r="4.1" fill="#bebebe"/>
<circle cx="501.8" cy="448.2" r="4.1" fill="#bebebe"/>
<circle cx="525.9" cy="423.2" r="4.1" fill="#bebebe"/>
<circle cx="525.9" cy="430.4" r="4.1" fill="#bebebe"/>
<circle cx="525.9" cy="434.8" r="4.1" fill="#bebebe"/>
<circle cx="525.9" cy="441.1" r="4.1" fill="#bebebe"/>
<circle cx="550.0" cy="410.7" r="4.1" fill="#bebebe"/>
<circle cx="550.0" cy="426.4" r="4.1" fill="#bebebe"/>
<circle cx="550.0" cy="429.9" r="4.1" fill="#bebebe"/>
<circle cx="550.0" cy="438.7" r="4.1" fill="#bebebe"/>
<circle cx="574.1" cy="410.7" r="4.1" fill="#bebebe"/>
<circle cx="574.1" cy="415.9" r="4.1" fill="#bebebe"/>
<circle cx="574.1" cy="419.4" r="4.1" fill="#bebebe"/>
<circle cx="574.1" cy="425.5" r="4.1" fill="#bebebe"/>
<circle cx="598.1" cy="401.4" r="4.1" fill="#bebebe"/>
<circle cx="598.1" cy="412.4" r="4.1" fill="#bebebe"/>
<circle cx="598.1" cy="414.2" r="4.1" fill="#bebebe"/>
<circle cx="622.2" cy="400.1" r="4.1" fill="#bebebe"/>
<circle cx="622.2" cy="406.3" r="4.1" fill="#bebebe"/>
<circle cx="622.2" cy="410.7" r="4.1" fill="#bebebe"/>
<circle cx="622.2" cy="417.7" r="4.1" fill="#bebebe"/>
<circle cx="646.3" cy="384.9" r="4.1" fill="#bebebe"/>
<circle cx="646.3" cy="401.9" r="4.1" fill="#bebebe"/>
<circle cx="646.3" cy="406.3" r="4.1" fill="#bebebe"/>
<circle cx="646.3" cy="417.1" r="4.1" fill="#bebebe"/>
<circle cx="429.6" cy="408" r="4.1" fill="#000"/>
<circle cx="429.6" cy="412" r="4.1" fill="#000"/>
<circle cx="429.6" cy="416" r="4.1" fill="#000"/>
<circle cx="429.6" cy="420" r="4.1" fill="#000"/>
<circle cx="429.6" cy="424" r="4.1" fill="#000"/>
<circle cx="429.6" cy="428" r="4.1" fill="#000"/>
<circle cx="453.7" cy="357.9" r="4.1" fill="#000"/>
<circle cx="453.7" cy="371.6" r="4.1" fill="#000"/>
<circle cx="453.7" cy="436.3" r="4.1" fill="#000"/>
<circle cx="477.8" cy="323.8" r="4.1" fill="#000"/>
<circle cx="477.8" cy="332" r="4.1" fill="#000"/>
<circle cx="477.8" cy="338.2" r="4.1" fill="#000"/>
<circle cx="477.8" cy="340.5" r="4.1" fill="#000"/>
<circle cx="501.8" cy="314.3" r="4.1" fill="#000"/>
<circle cx="501.8" cy="331.4" r="4.1" fill="#000"/>
<circle cx="501.8" cy="336" r="4.1" fill="#000"/>
<circle cx="501.8" cy="341.2" r="4.1" fill="#000"/>
<circle cx="525.9" cy="310.8" r="4.1" fill="#000"/>
<circle cx="525.9" cy="315" r="4.1" fill="#000"/>
<circle cx="525.9" cy="337.6" r="4.1" fill="#000"/>
<circle cx="550.0" cy="318.2" r="4.1" fill="#000"/>
<circle cx="550.0" cy="322.2" r="4.1" fill="#000"/>
<circle cx="550.0" cy="328.1" r="4.1" fill="#000"/>
<circle cx="550.0" cy="332" r="4.1" fill="#000"/>
<circle cx="574.1" cy="304.9" r="4.1" fill="#000"/>
<circle cx="574.1" cy="308" r="4.1" fill="#000"/>
<circle cx="574.1" cy="314" r="4.1" fill="#000"/>
<circle cx="574.1" cy="318.5" r="4.1" fill="#000"/>
<circle cx="574.1" cy="323" r="4.1" fill="#000"/>
<circle cx="598.1" cy="309.3" r="4.1" fill="#000"/>
<circle cx="598.1" cy="312.6" r="4.1" fill="#000"/>
<circle cx="598.1" cy="317.2" r="4.1" fill="#000"/>
<circle cx="598.1" cy="327" r="4.1" fill="#000"/>
<circle cx="598.1" cy="330.3" r="4.1" fill="#000"/>
<circle cx="622.2" cy="303.4" r="4.1" fill="#000"/>
<circle cx="622.2" cy="310.6" r="4.1" fill="#000"/>
<circle cx="622.2" cy="317.8" r="4.1" fill="#000"/>
<circle cx="622.2" cy="327" r="4.1" fill="#000"/>
<circle cx="646.3" cy="295.5" r="4.1" fill="#000"/>
<circle cx="646.3" cy="300.8" r="4.1" fill="#000"/>
<circle cx="646.3" cy="315.2" r="4.1" fill="#000"/>
<circle cx="646.3" cy="319.8" r="4.1" fill="#000"/>
<path d="M429.6,477.0 C433.6,474.7 445.7,467.8 453.7,463.0 C461.7,458.2 469.8,453.0 477.8,448.5 C485.8,444.0 493.8,439.8 501.8,436.0 C509.8,432.2 517.9,428.8 525.9,426.0 C533.9,423.2 542.0,421.1 550.0,419.0 C558.0,416.9 566.0,415.3 574.0,413.3 C582.0,411.3 590.0,409.2 598.0,407.2 C606.0,405.2 614.0,403.4 622.0,401.3 C630.0,399.2 642.2,395.6 646.3,394.5 L646.3,407.5 C642.2,408.2 630.0,410.1 622.0,411.7 C614.0,413.2 606.0,415.0 598.0,416.8 C590.0,418.6 582.0,420.4 574.0,422.3 C566.0,424.2 558.0,425.9 550.0,428.0 C542.0,430.1 533.9,432.2 525.9,435.0 C517.9,437.8 509.8,441.2 501.8,445.0 C493.8,448.8 485.8,453.0 477.8,457.5 C469.8,462.0 461.7,466.9 453.7,472.0 C445.7,477.1 433.6,485.3 429.6,488.0Z" fill="#999" fill-opacity="0.4"/>
<path d="M429.6,482.5 C433.6,480.0 445.7,472.4 453.7,467.5 C461.7,462.6 469.8,457.5 477.8,453.0 C485.8,448.5 493.8,444.2 501.8,440.5 C509.8,436.8 517.9,433.3 525.9,430.5 C533.9,427.7 542.0,425.6 550.0,423.5 C558.0,421.4 566.0,419.7 574.0,417.8 C582.0,415.9 590.0,413.9 598.0,412.0 C606.0,410.1 614.0,408.3 622.0,406.5 C630.0,404.7 642.2,401.9 646.3,401.0" fill="none" stroke="#bebebe" stroke-width="1.6"/>
<path d="M429.6,409.0 C431.5,405.3 437.0,394.2 441.0,387.0 C445.0,379.8 449.7,371.3 453.7,365.5 C457.7,359.7 461.0,356.4 465.0,352.0 C469.0,347.6 473.6,343.1 477.8,339.0 C482.0,334.9 487.0,330.5 490.4,327.7 C493.8,324.9 495.6,323.7 498.0,322.2 C500.4,320.7 501.7,319.6 504.7,318.5 C507.7,317.4 512.1,316.6 516.0,315.9 C519.9,315.2 524.0,314.6 528.0,314.2 C532.0,313.8 536.3,313.5 540.0,313.2 C543.7,312.9 544.3,312.9 550.0,312.6 C555.7,312.3 566.0,311.9 574.0,311.4 C582.0,310.9 590.0,310.3 598.0,309.4 C606.0,308.5 614.0,307.3 622.0,306.0 C630.0,304.7 642.2,302.2 646.3,301.5 L646.3,320.5 C642.2,320.6 630.0,320.6 622.0,321.0 C614.0,321.4 606.0,322.0 598.0,322.6 C590.0,323.2 582.0,324.1 574.0,324.6 C566.0,325.1 555.7,325.5 550.0,325.8 C544.3,326.1 543.7,326.1 540.0,326.4 C536.3,326.7 532.0,327.0 528.0,327.4 C524.0,327.9 519.9,328.4 516.0,329.1 C512.1,329.8 507.7,330.6 504.7,331.5 C501.7,332.4 500.4,333.4 498.0,334.8 C495.6,336.2 493.8,337.2 490.4,339.7 C487.0,342.2 482.0,346.1 477.8,350.0 C473.6,353.9 469.0,358.6 465.0,363.0 C461.0,367.4 457.7,370.5 453.7,376.5 C449.7,382.5 445.0,391.1 441.0,399.0 C437.0,406.9 431.5,419.8 429.6,424.0Z" fill="#999" fill-opacity="0.4"/>
<path d="M429.6,416.5 C431.5,412.6 437.0,400.6 441.0,393.0 C445.0,385.4 449.7,376.9 453.7,371.0 C457.7,365.1 461.0,361.9 465.0,357.5 C469.0,353.1 473.6,348.5 477.8,344.5 C482.0,340.5 487.0,336.4 490.4,333.7 C493.8,331.0 495.6,329.9 498.0,328.5 C500.4,327.1 501.7,326.0 504.7,325.0 C507.7,324.0 512.1,323.2 516.0,322.5 C519.9,321.8 524.0,321.2 528.0,320.8 C532.0,320.4 536.3,320.1 540.0,319.8 C543.7,319.5 544.3,319.5 550.0,319.2 C555.7,318.9 566.0,318.5 574.0,318.0 C582.0,317.5 590.0,316.8 598.0,316.0 C606.0,315.2 614.0,314.3 622.0,313.5 C630.0,312.7 642.2,311.4 646.3,311.0" fill="none" stroke="#000" stroke-width="1.6"/>
<text x="435.3" y="265.4" font-size="14" font-weight="bold" textLength="102.8" lengthAdjust="spacingAndGlyphs" fill="#000" font-family="Liberation Sans, sans-serif">Peripheral killing</text>
<circle cx="437.4" cy="279.7" r="3.1" fill="#bebebe"/>
<circle cx="437.4" cy="290.4" r="3.1" fill="#000"/>
<text x="448.6" y="284.2" font-size="11.3" fill="#000" font-family="Liberation Sans, sans-serif">Absent</text>
<text x="448.6" y="294.7" font-size="11.3" fill="#000" font-family="Liberation Sans, sans-serif">Present</text>
<text transform="translate(385,498.9) rotate(-90)" font-size="14.6" textLength="216" lengthAdjust="spacingAndGlyphs" fill="#000" font-family="Liberation Sans, sans-serif">Proportion of transconjugant cells</text>
<text x="453.1" y="555.7" font-size="14.5" textLength="182" lengthAdjust="spacingAndGlyphs" fill="#000" font-family="Liberation Sans, sans-serif">Plasmid transfer probability</text>
</svg>
</body></html>
